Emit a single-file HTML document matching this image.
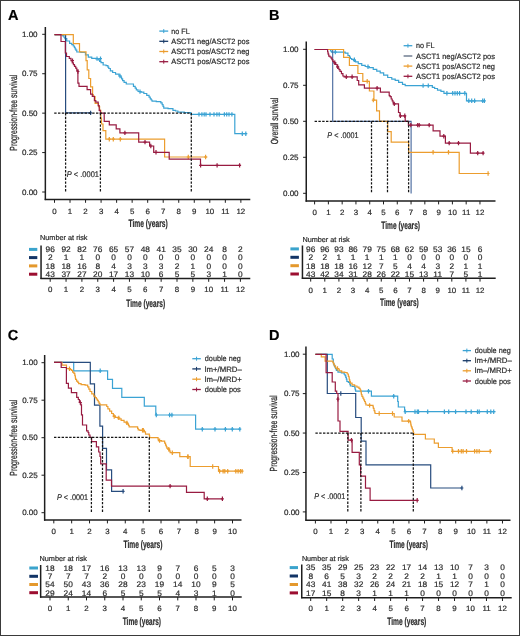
<!DOCTYPE html>
<html><head><meta charset="utf-8"><style>
html,body{margin:0;padding:0;background:#fff;}
body{width:520px;height:636px;overflow:hidden;}
svg{display:block;font-family:"Liberation Sans", sans-serif;text-rendering:geometricPrecision;filter:blur(0.4px);}
</style></head><body>
<svg width="520" height="636" viewBox="0 0 520 636">
<rect x="0" y="0" width="520" height="636" fill="#fff"/>
<text transform="translate(7.90,19.80)" font-size="14.5" font-weight="bold" fill="#000" stroke="#000" stroke-width="0.2">A</text>
<line x1="45.35" y1="27.00" x2="45.35" y2="200.10" stroke="#1e1e1e" stroke-width="1.5"/>
<line x1="44.70" y1="199.50" x2="250.30" y2="199.50" stroke="#1e1e1e" stroke-width="1.5"/>
<line x1="42.20" y1="34.30" x2="45.50" y2="34.30" stroke="#1e1e1e" stroke-width="1.0"/>
<text transform="translate(37.60,37.05) scale(1.030,1)" font-size="7.8" text-anchor="end" fill="#2b2b2b" stroke="#2b2b2b" stroke-width="0.2">1.00</text>
<line x1="42.20" y1="73.72" x2="45.50" y2="73.72" stroke="#1e1e1e" stroke-width="1.0"/>
<text transform="translate(37.60,76.47) scale(1.030,1)" font-size="7.8" text-anchor="end" fill="#2b2b2b" stroke="#2b2b2b" stroke-width="0.2">0.75</text>
<line x1="42.20" y1="113.15" x2="45.50" y2="113.15" stroke="#1e1e1e" stroke-width="1.0"/>
<text transform="translate(37.60,115.90) scale(1.030,1)" font-size="7.8" text-anchor="end" fill="#2b2b2b" stroke="#2b2b2b" stroke-width="0.2">0.50</text>
<line x1="42.20" y1="152.57" x2="45.50" y2="152.57" stroke="#1e1e1e" stroke-width="1.0"/>
<text transform="translate(37.60,155.32) scale(1.030,1)" font-size="7.8" text-anchor="end" fill="#2b2b2b" stroke="#2b2b2b" stroke-width="0.2">0.25</text>
<line x1="42.20" y1="192.00" x2="45.50" y2="192.00" stroke="#1e1e1e" stroke-width="1.0"/>
<text transform="translate(37.60,194.75) scale(1.030,1)" font-size="7.8" text-anchor="end" fill="#2b2b2b" stroke="#2b2b2b" stroke-width="0.2">0.00</text>
<line x1="54.50" y1="199.40" x2="54.50" y2="202.80" stroke="#1e1e1e" stroke-width="1.0"/>
<text transform="translate(54.50,213.70) scale(1.040,1)" font-size="7.6" text-anchor="middle" fill="#2b2b2b" stroke="#2b2b2b" stroke-width="0.2">0</text>
<line x1="70.03" y1="199.40" x2="70.03" y2="202.80" stroke="#1e1e1e" stroke-width="1.0"/>
<text transform="translate(70.03,213.70) scale(1.040,1)" font-size="7.6" text-anchor="middle" fill="#2b2b2b" stroke="#2b2b2b" stroke-width="0.2">1</text>
<line x1="85.56" y1="199.40" x2="85.56" y2="202.80" stroke="#1e1e1e" stroke-width="1.0"/>
<text transform="translate(85.56,213.70) scale(1.040,1)" font-size="7.6" text-anchor="middle" fill="#2b2b2b" stroke="#2b2b2b" stroke-width="0.2">2</text>
<line x1="101.09" y1="199.40" x2="101.09" y2="202.80" stroke="#1e1e1e" stroke-width="1.0"/>
<text transform="translate(101.09,213.70) scale(1.040,1)" font-size="7.6" text-anchor="middle" fill="#2b2b2b" stroke="#2b2b2b" stroke-width="0.2">3</text>
<line x1="116.62" y1="199.40" x2="116.62" y2="202.80" stroke="#1e1e1e" stroke-width="1.0"/>
<text transform="translate(116.62,213.70) scale(1.040,1)" font-size="7.6" text-anchor="middle" fill="#2b2b2b" stroke="#2b2b2b" stroke-width="0.2">4</text>
<line x1="132.15" y1="199.40" x2="132.15" y2="202.80" stroke="#1e1e1e" stroke-width="1.0"/>
<text transform="translate(132.15,213.70) scale(1.040,1)" font-size="7.6" text-anchor="middle" fill="#2b2b2b" stroke="#2b2b2b" stroke-width="0.2">5</text>
<line x1="147.68" y1="199.40" x2="147.68" y2="202.80" stroke="#1e1e1e" stroke-width="1.0"/>
<text transform="translate(147.68,213.70) scale(1.040,1)" font-size="7.6" text-anchor="middle" fill="#2b2b2b" stroke="#2b2b2b" stroke-width="0.2">6</text>
<line x1="163.21" y1="199.40" x2="163.21" y2="202.80" stroke="#1e1e1e" stroke-width="1.0"/>
<text transform="translate(163.21,213.70) scale(1.040,1)" font-size="7.6" text-anchor="middle" fill="#2b2b2b" stroke="#2b2b2b" stroke-width="0.2">7</text>
<line x1="178.74" y1="199.40" x2="178.74" y2="202.80" stroke="#1e1e1e" stroke-width="1.0"/>
<text transform="translate(178.74,213.70) scale(1.040,1)" font-size="7.6" text-anchor="middle" fill="#2b2b2b" stroke="#2b2b2b" stroke-width="0.2">8</text>
<line x1="194.27" y1="199.40" x2="194.27" y2="202.80" stroke="#1e1e1e" stroke-width="1.0"/>
<text transform="translate(194.27,213.70) scale(1.040,1)" font-size="7.6" text-anchor="middle" fill="#2b2b2b" stroke="#2b2b2b" stroke-width="0.2">9</text>
<line x1="209.80" y1="199.40" x2="209.80" y2="202.80" stroke="#1e1e1e" stroke-width="1.0"/>
<text transform="translate(209.80,213.70) scale(1.040,1)" font-size="7.6" text-anchor="middle" fill="#2b2b2b" stroke="#2b2b2b" stroke-width="0.2">10</text>
<line x1="225.33" y1="199.40" x2="225.33" y2="202.80" stroke="#1e1e1e" stroke-width="1.0"/>
<text transform="translate(225.33,213.70) scale(1.040,1)" font-size="7.6" text-anchor="middle" fill="#2b2b2b" stroke="#2b2b2b" stroke-width="0.2">11</text>
<line x1="240.86" y1="199.40" x2="240.86" y2="202.80" stroke="#1e1e1e" stroke-width="1.0"/>
<text transform="translate(240.86,213.70) scale(1.040,1)" font-size="7.6" text-anchor="middle" fill="#2b2b2b" stroke="#2b2b2b" stroke-width="0.2">12</text>
<text transform="translate(128.50,227.30)" font-size="10.8" font-weight="bold" textLength="39.20" lengthAdjust="spacingAndGlyphs" fill="#2b2b2b" stroke="#2b2b2b" stroke-width="0.2">Time (years)</text>
<text transform="translate(16.80,112.70) rotate(-90)" font-size="10.3" text-anchor="middle" textLength="76.00" lengthAdjust="spacingAndGlyphs" fill="#2b2b2b" stroke="#2b2b2b" stroke-width="0.25">Progression-free survival</text>
<line x1="159.30" y1="31.10" x2="168.20" y2="31.10" stroke="#3BA3D4" stroke-width="1.3"/>
<line x1="163.75" y1="29.10" x2="163.75" y2="33.10" stroke="#3BA3D4" stroke-width="1.0"/>
<text transform="translate(171.20,33.70)" font-size="7.7" textLength="18.50" lengthAdjust="spacingAndGlyphs" fill="#2b2b2b" stroke="#2b2b2b" stroke-width="0.2">no FL</text>
<line x1="159.30" y1="41.30" x2="168.20" y2="41.30" stroke="#183A68" stroke-width="1.3"/>
<line x1="163.75" y1="39.30" x2="163.75" y2="43.30" stroke="#183A68" stroke-width="1.0"/>
<text transform="translate(171.20,43.90)" font-size="7.7" textLength="78.20" lengthAdjust="spacingAndGlyphs" fill="#2b2b2b" stroke="#2b2b2b" stroke-width="0.2">ASCT1 neg/ASCT2 pos</text>
<line x1="159.30" y1="51.50" x2="168.20" y2="51.50" stroke="#EC9D2E" stroke-width="1.3"/>
<line x1="163.75" y1="49.50" x2="163.75" y2="53.50" stroke="#EC9D2E" stroke-width="1.0"/>
<text transform="translate(171.20,54.10)" font-size="7.7" textLength="78.20" lengthAdjust="spacingAndGlyphs" fill="#2b2b2b" stroke="#2b2b2b" stroke-width="0.2">ASCT1 pos/ASCT2 neg</text>
<line x1="159.30" y1="61.70" x2="168.20" y2="61.70" stroke="#981B41" stroke-width="1.3"/>
<line x1="163.75" y1="59.70" x2="163.75" y2="63.70" stroke="#981B41" stroke-width="1.0"/>
<text transform="translate(171.20,64.30)" font-size="7.7" textLength="78.20" lengthAdjust="spacingAndGlyphs" fill="#2b2b2b" stroke="#2b2b2b" stroke-width="0.2">ASCT1 pos/ASCT2 pos</text>
<text transform="translate(40.00,240.00)" font-size="7.2" textLength="47.50" lengthAdjust="spacingAndGlyphs" fill="#2b2b2b" stroke="#2b2b2b" stroke-width="0.2">Number at risk</text>
<rect x="29.00" y="247.90" width="8.30" height="3.00" fill="#3AA3CC"/>
<text transform="translate(50.20,252.25) scale(1.040,1)" font-size="8.0" text-anchor="middle" fill="#2b2b2b" stroke="#2b2b2b" stroke-width="0.2">96</text>
<text transform="translate(66.05,252.25) scale(1.040,1)" font-size="8.0" text-anchor="middle" fill="#2b2b2b" stroke="#2b2b2b" stroke-width="0.2">92</text>
<text transform="translate(81.90,252.25) scale(1.040,1)" font-size="8.0" text-anchor="middle" fill="#2b2b2b" stroke="#2b2b2b" stroke-width="0.2">82</text>
<text transform="translate(97.75,252.25) scale(1.040,1)" font-size="8.0" text-anchor="middle" fill="#2b2b2b" stroke="#2b2b2b" stroke-width="0.2">76</text>
<text transform="translate(113.60,252.25) scale(1.040,1)" font-size="8.0" text-anchor="middle" fill="#2b2b2b" stroke="#2b2b2b" stroke-width="0.2">65</text>
<text transform="translate(129.45,252.25) scale(1.040,1)" font-size="8.0" text-anchor="middle" fill="#2b2b2b" stroke="#2b2b2b" stroke-width="0.2">57</text>
<text transform="translate(145.30,252.25) scale(1.040,1)" font-size="8.0" text-anchor="middle" fill="#2b2b2b" stroke="#2b2b2b" stroke-width="0.2">48</text>
<text transform="translate(161.15,252.25) scale(1.040,1)" font-size="8.0" text-anchor="middle" fill="#2b2b2b" stroke="#2b2b2b" stroke-width="0.2">41</text>
<text transform="translate(177.00,252.25) scale(1.040,1)" font-size="8.0" text-anchor="middle" fill="#2b2b2b" stroke="#2b2b2b" stroke-width="0.2">35</text>
<text transform="translate(192.85,252.25) scale(1.040,1)" font-size="8.0" text-anchor="middle" fill="#2b2b2b" stroke="#2b2b2b" stroke-width="0.2">30</text>
<text transform="translate(208.70,252.25) scale(1.040,1)" font-size="8.0" text-anchor="middle" fill="#2b2b2b" stroke="#2b2b2b" stroke-width="0.2">24</text>
<text transform="translate(224.55,252.25) scale(1.040,1)" font-size="8.0" text-anchor="middle" fill="#2b2b2b" stroke="#2b2b2b" stroke-width="0.2">8</text>
<text transform="translate(240.40,252.25) scale(1.040,1)" font-size="8.0" text-anchor="middle" fill="#2b2b2b" stroke="#2b2b2b" stroke-width="0.2">2</text>
<rect x="29.00" y="256.10" width="8.30" height="3.00" fill="#123466"/>
<text transform="translate(50.20,260.45) scale(1.040,1)" font-size="8.0" text-anchor="middle" fill="#2b2b2b" stroke="#2b2b2b" stroke-width="0.2">2</text>
<text transform="translate(66.05,260.45) scale(1.040,1)" font-size="8.0" text-anchor="middle" fill="#2b2b2b" stroke="#2b2b2b" stroke-width="0.2">1</text>
<text transform="translate(81.90,260.45) scale(1.040,1)" font-size="8.0" text-anchor="middle" fill="#2b2b2b" stroke="#2b2b2b" stroke-width="0.2">1</text>
<text transform="translate(97.75,260.45) scale(1.040,1)" font-size="8.0" text-anchor="middle" fill="#2b2b2b" stroke="#2b2b2b" stroke-width="0.2">0</text>
<text transform="translate(113.60,260.45) scale(1.040,1)" font-size="8.0" text-anchor="middle" fill="#2b2b2b" stroke="#2b2b2b" stroke-width="0.2">0</text>
<text transform="translate(129.45,260.45) scale(1.040,1)" font-size="8.0" text-anchor="middle" fill="#2b2b2b" stroke="#2b2b2b" stroke-width="0.2">0</text>
<text transform="translate(145.30,260.45) scale(1.040,1)" font-size="8.0" text-anchor="middle" fill="#2b2b2b" stroke="#2b2b2b" stroke-width="0.2">0</text>
<text transform="translate(161.15,260.45) scale(1.040,1)" font-size="8.0" text-anchor="middle" fill="#2b2b2b" stroke="#2b2b2b" stroke-width="0.2">0</text>
<text transform="translate(177.00,260.45) scale(1.040,1)" font-size="8.0" text-anchor="middle" fill="#2b2b2b" stroke="#2b2b2b" stroke-width="0.2">0</text>
<text transform="translate(192.85,260.45) scale(1.040,1)" font-size="8.0" text-anchor="middle" fill="#2b2b2b" stroke="#2b2b2b" stroke-width="0.2">0</text>
<text transform="translate(208.70,260.45) scale(1.040,1)" font-size="8.0" text-anchor="middle" fill="#2b2b2b" stroke="#2b2b2b" stroke-width="0.2">0</text>
<text transform="translate(224.55,260.45) scale(1.040,1)" font-size="8.0" text-anchor="middle" fill="#2b2b2b" stroke="#2b2b2b" stroke-width="0.2">0</text>
<text transform="translate(240.40,260.45) scale(1.040,1)" font-size="8.0" text-anchor="middle" fill="#2b2b2b" stroke="#2b2b2b" stroke-width="0.2">0</text>
<rect x="29.00" y="264.40" width="8.30" height="3.00" fill="#E4982C"/>
<text transform="translate(50.20,268.75) scale(1.040,1)" font-size="8.0" text-anchor="middle" fill="#2b2b2b" stroke="#2b2b2b" stroke-width="0.2">18</text>
<text transform="translate(66.05,268.75) scale(1.040,1)" font-size="8.0" text-anchor="middle" fill="#2b2b2b" stroke="#2b2b2b" stroke-width="0.2">18</text>
<text transform="translate(81.90,268.75) scale(1.040,1)" font-size="8.0" text-anchor="middle" fill="#2b2b2b" stroke="#2b2b2b" stroke-width="0.2">16</text>
<text transform="translate(97.75,268.75) scale(1.040,1)" font-size="8.0" text-anchor="middle" fill="#2b2b2b" stroke="#2b2b2b" stroke-width="0.2">8</text>
<text transform="translate(113.60,268.75) scale(1.040,1)" font-size="8.0" text-anchor="middle" fill="#2b2b2b" stroke="#2b2b2b" stroke-width="0.2">4</text>
<text transform="translate(129.45,268.75) scale(1.040,1)" font-size="8.0" text-anchor="middle" fill="#2b2b2b" stroke="#2b2b2b" stroke-width="0.2">3</text>
<text transform="translate(145.30,268.75) scale(1.040,1)" font-size="8.0" text-anchor="middle" fill="#2b2b2b" stroke="#2b2b2b" stroke-width="0.2">3</text>
<text transform="translate(161.15,268.75) scale(1.040,1)" font-size="8.0" text-anchor="middle" fill="#2b2b2b" stroke="#2b2b2b" stroke-width="0.2">3</text>
<text transform="translate(177.00,268.75) scale(1.040,1)" font-size="8.0" text-anchor="middle" fill="#2b2b2b" stroke="#2b2b2b" stroke-width="0.2">2</text>
<text transform="translate(192.85,268.75) scale(1.040,1)" font-size="8.0" text-anchor="middle" fill="#2b2b2b" stroke="#2b2b2b" stroke-width="0.2">1</text>
<text transform="translate(208.70,268.75) scale(1.040,1)" font-size="8.0" text-anchor="middle" fill="#2b2b2b" stroke="#2b2b2b" stroke-width="0.2">0</text>
<text transform="translate(224.55,268.75) scale(1.040,1)" font-size="8.0" text-anchor="middle" fill="#2b2b2b" stroke="#2b2b2b" stroke-width="0.2">0</text>
<text transform="translate(240.40,268.75) scale(1.040,1)" font-size="8.0" text-anchor="middle" fill="#2b2b2b" stroke="#2b2b2b" stroke-width="0.2">0</text>
<rect x="29.00" y="272.70" width="8.30" height="3.00" fill="#9C0E30"/>
<text transform="translate(50.20,277.05) scale(1.040,1)" font-size="8.0" text-anchor="middle" fill="#2b2b2b" stroke="#2b2b2b" stroke-width="0.2">43</text>
<text transform="translate(66.05,277.05) scale(1.040,1)" font-size="8.0" text-anchor="middle" fill="#2b2b2b" stroke="#2b2b2b" stroke-width="0.2">37</text>
<text transform="translate(81.90,277.05) scale(1.040,1)" font-size="8.0" text-anchor="middle" fill="#2b2b2b" stroke="#2b2b2b" stroke-width="0.2">27</text>
<text transform="translate(97.75,277.05) scale(1.040,1)" font-size="8.0" text-anchor="middle" fill="#2b2b2b" stroke="#2b2b2b" stroke-width="0.2">20</text>
<text transform="translate(113.60,277.05) scale(1.040,1)" font-size="8.0" text-anchor="middle" fill="#2b2b2b" stroke="#2b2b2b" stroke-width="0.2">17</text>
<text transform="translate(129.45,277.05) scale(1.040,1)" font-size="8.0" text-anchor="middle" fill="#2b2b2b" stroke="#2b2b2b" stroke-width="0.2">13</text>
<text transform="translate(145.30,277.05) scale(1.040,1)" font-size="8.0" text-anchor="middle" fill="#2b2b2b" stroke="#2b2b2b" stroke-width="0.2">10</text>
<text transform="translate(161.15,277.05) scale(1.040,1)" font-size="8.0" text-anchor="middle" fill="#2b2b2b" stroke="#2b2b2b" stroke-width="0.2">6</text>
<text transform="translate(177.00,277.05) scale(1.040,1)" font-size="8.0" text-anchor="middle" fill="#2b2b2b" stroke="#2b2b2b" stroke-width="0.2">5</text>
<text transform="translate(192.85,277.05) scale(1.040,1)" font-size="8.0" text-anchor="middle" fill="#2b2b2b" stroke="#2b2b2b" stroke-width="0.2">5</text>
<text transform="translate(208.70,277.05) scale(1.040,1)" font-size="8.0" text-anchor="middle" fill="#2b2b2b" stroke="#2b2b2b" stroke-width="0.2">3</text>
<text transform="translate(224.55,277.05) scale(1.040,1)" font-size="8.0" text-anchor="middle" fill="#2b2b2b" stroke="#2b2b2b" stroke-width="0.2">1</text>
<text transform="translate(240.40,277.05) scale(1.040,1)" font-size="8.0" text-anchor="middle" fill="#2b2b2b" stroke="#2b2b2b" stroke-width="0.2">0</text>
<line x1="41.05" y1="245.50" x2="41.05" y2="279.10" stroke="#1e1e1e" stroke-width="1.5"/>
<line x1="40.40" y1="278.50" x2="250.30" y2="278.50" stroke="#1e1e1e" stroke-width="1.5"/>
<line x1="50.20" y1="278.40" x2="50.20" y2="281.80" stroke="#1e1e1e" stroke-width="1.0"/>
<text transform="translate(50.20,292.40) scale(1.040,1)" font-size="7.6" text-anchor="middle" fill="#2b2b2b" stroke="#2b2b2b" stroke-width="0.2">0</text>
<line x1="66.05" y1="278.40" x2="66.05" y2="281.80" stroke="#1e1e1e" stroke-width="1.0"/>
<text transform="translate(66.05,292.40) scale(1.040,1)" font-size="7.6" text-anchor="middle" fill="#2b2b2b" stroke="#2b2b2b" stroke-width="0.2">1</text>
<line x1="81.90" y1="278.40" x2="81.90" y2="281.80" stroke="#1e1e1e" stroke-width="1.0"/>
<text transform="translate(81.90,292.40) scale(1.040,1)" font-size="7.6" text-anchor="middle" fill="#2b2b2b" stroke="#2b2b2b" stroke-width="0.2">2</text>
<line x1="97.75" y1="278.40" x2="97.75" y2="281.80" stroke="#1e1e1e" stroke-width="1.0"/>
<text transform="translate(97.75,292.40) scale(1.040,1)" font-size="7.6" text-anchor="middle" fill="#2b2b2b" stroke="#2b2b2b" stroke-width="0.2">3</text>
<line x1="113.60" y1="278.40" x2="113.60" y2="281.80" stroke="#1e1e1e" stroke-width="1.0"/>
<text transform="translate(113.60,292.40) scale(1.040,1)" font-size="7.6" text-anchor="middle" fill="#2b2b2b" stroke="#2b2b2b" stroke-width="0.2">4</text>
<line x1="129.45" y1="278.40" x2="129.45" y2="281.80" stroke="#1e1e1e" stroke-width="1.0"/>
<text transform="translate(129.45,292.40) scale(1.040,1)" font-size="7.6" text-anchor="middle" fill="#2b2b2b" stroke="#2b2b2b" stroke-width="0.2">5</text>
<line x1="145.30" y1="278.40" x2="145.30" y2="281.80" stroke="#1e1e1e" stroke-width="1.0"/>
<text transform="translate(145.30,292.40) scale(1.040,1)" font-size="7.6" text-anchor="middle" fill="#2b2b2b" stroke="#2b2b2b" stroke-width="0.2">6</text>
<line x1="161.15" y1="278.40" x2="161.15" y2="281.80" stroke="#1e1e1e" stroke-width="1.0"/>
<text transform="translate(161.15,292.40) scale(1.040,1)" font-size="7.6" text-anchor="middle" fill="#2b2b2b" stroke="#2b2b2b" stroke-width="0.2">7</text>
<line x1="177.00" y1="278.40" x2="177.00" y2="281.80" stroke="#1e1e1e" stroke-width="1.0"/>
<text transform="translate(177.00,292.40) scale(1.040,1)" font-size="7.6" text-anchor="middle" fill="#2b2b2b" stroke="#2b2b2b" stroke-width="0.2">8</text>
<line x1="192.85" y1="278.40" x2="192.85" y2="281.80" stroke="#1e1e1e" stroke-width="1.0"/>
<text transform="translate(192.85,292.40) scale(1.040,1)" font-size="7.6" text-anchor="middle" fill="#2b2b2b" stroke="#2b2b2b" stroke-width="0.2">9</text>
<line x1="208.70" y1="278.40" x2="208.70" y2="281.80" stroke="#1e1e1e" stroke-width="1.0"/>
<text transform="translate(208.70,292.40) scale(1.040,1)" font-size="7.6" text-anchor="middle" fill="#2b2b2b" stroke="#2b2b2b" stroke-width="0.2">10</text>
<line x1="224.55" y1="278.40" x2="224.55" y2="281.80" stroke="#1e1e1e" stroke-width="1.0"/>
<text transform="translate(224.55,292.40) scale(1.040,1)" font-size="7.6" text-anchor="middle" fill="#2b2b2b" stroke="#2b2b2b" stroke-width="0.2">11</text>
<line x1="240.40" y1="278.40" x2="240.40" y2="281.80" stroke="#1e1e1e" stroke-width="1.0"/>
<text transform="translate(240.40,292.40) scale(1.040,1)" font-size="7.6" text-anchor="middle" fill="#2b2b2b" stroke="#2b2b2b" stroke-width="0.2">12</text>
<text transform="translate(126.30,306.50)" font-size="10.8" font-weight="bold" textLength="38.80" lengthAdjust="spacingAndGlyphs" fill="#2b2b2b" stroke="#2b2b2b" stroke-width="0.2">Time (years)</text>
<text transform="translate(268.90,19.70)" font-size="14.5" font-weight="bold" fill="#000" stroke="#000" stroke-width="0.2">B</text>
<line x1="306.25" y1="41.50" x2="306.25" y2="201.70" stroke="#1e1e1e" stroke-width="1.5"/>
<line x1="305.60" y1="201.10" x2="495.50" y2="201.10" stroke="#1e1e1e" stroke-width="1.5"/>
<line x1="303.10" y1="49.30" x2="306.40" y2="49.30" stroke="#1e1e1e" stroke-width="1.0"/>
<text transform="translate(298.60,52.05) scale(1.030,1)" font-size="7.8" text-anchor="end" fill="#2b2b2b" stroke="#2b2b2b" stroke-width="0.2">1.00</text>
<line x1="303.10" y1="85.30" x2="306.40" y2="85.30" stroke="#1e1e1e" stroke-width="1.0"/>
<text transform="translate(298.60,88.05) scale(1.030,1)" font-size="7.8" text-anchor="end" fill="#2b2b2b" stroke="#2b2b2b" stroke-width="0.2">0.75</text>
<line x1="303.10" y1="121.30" x2="306.40" y2="121.30" stroke="#1e1e1e" stroke-width="1.0"/>
<text transform="translate(298.60,124.05) scale(1.030,1)" font-size="7.8" text-anchor="end" fill="#2b2b2b" stroke="#2b2b2b" stroke-width="0.2">0.50</text>
<line x1="303.10" y1="157.30" x2="306.40" y2="157.30" stroke="#1e1e1e" stroke-width="1.0"/>
<text transform="translate(298.60,160.05) scale(1.030,1)" font-size="7.8" text-anchor="end" fill="#2b2b2b" stroke="#2b2b2b" stroke-width="0.2">0.25</text>
<line x1="303.10" y1="193.30" x2="306.40" y2="193.30" stroke="#1e1e1e" stroke-width="1.0"/>
<text transform="translate(298.60,196.05) scale(1.030,1)" font-size="7.8" text-anchor="end" fill="#2b2b2b" stroke="#2b2b2b" stroke-width="0.2">0.00</text>
<line x1="314.60" y1="201.00" x2="314.60" y2="204.40" stroke="#1e1e1e" stroke-width="1.0"/>
<text transform="translate(314.60,215.40) scale(1.040,1)" font-size="7.6" text-anchor="middle" fill="#2b2b2b" stroke="#2b2b2b" stroke-width="0.2">0</text>
<line x1="328.38" y1="201.00" x2="328.38" y2="204.40" stroke="#1e1e1e" stroke-width="1.0"/>
<text transform="translate(328.38,215.40) scale(1.040,1)" font-size="7.6" text-anchor="middle" fill="#2b2b2b" stroke="#2b2b2b" stroke-width="0.2">1</text>
<line x1="342.16" y1="201.00" x2="342.16" y2="204.40" stroke="#1e1e1e" stroke-width="1.0"/>
<text transform="translate(342.16,215.40) scale(1.040,1)" font-size="7.6" text-anchor="middle" fill="#2b2b2b" stroke="#2b2b2b" stroke-width="0.2">2</text>
<line x1="355.94" y1="201.00" x2="355.94" y2="204.40" stroke="#1e1e1e" stroke-width="1.0"/>
<text transform="translate(355.94,215.40) scale(1.040,1)" font-size="7.6" text-anchor="middle" fill="#2b2b2b" stroke="#2b2b2b" stroke-width="0.2">3</text>
<line x1="369.72" y1="201.00" x2="369.72" y2="204.40" stroke="#1e1e1e" stroke-width="1.0"/>
<text transform="translate(369.72,215.40) scale(1.040,1)" font-size="7.6" text-anchor="middle" fill="#2b2b2b" stroke="#2b2b2b" stroke-width="0.2">4</text>
<line x1="383.50" y1="201.00" x2="383.50" y2="204.40" stroke="#1e1e1e" stroke-width="1.0"/>
<text transform="translate(383.50,215.40) scale(1.040,1)" font-size="7.6" text-anchor="middle" fill="#2b2b2b" stroke="#2b2b2b" stroke-width="0.2">5</text>
<line x1="397.28" y1="201.00" x2="397.28" y2="204.40" stroke="#1e1e1e" stroke-width="1.0"/>
<text transform="translate(397.28,215.40) scale(1.040,1)" font-size="7.6" text-anchor="middle" fill="#2b2b2b" stroke="#2b2b2b" stroke-width="0.2">6</text>
<line x1="411.06" y1="201.00" x2="411.06" y2="204.40" stroke="#1e1e1e" stroke-width="1.0"/>
<text transform="translate(411.06,215.40) scale(1.040,1)" font-size="7.6" text-anchor="middle" fill="#2b2b2b" stroke="#2b2b2b" stroke-width="0.2">7</text>
<line x1="424.84" y1="201.00" x2="424.84" y2="204.40" stroke="#1e1e1e" stroke-width="1.0"/>
<text transform="translate(424.84,215.40) scale(1.040,1)" font-size="7.6" text-anchor="middle" fill="#2b2b2b" stroke="#2b2b2b" stroke-width="0.2">8</text>
<line x1="438.62" y1="201.00" x2="438.62" y2="204.40" stroke="#1e1e1e" stroke-width="1.0"/>
<text transform="translate(438.62,215.40) scale(1.040,1)" font-size="7.6" text-anchor="middle" fill="#2b2b2b" stroke="#2b2b2b" stroke-width="0.2">9</text>
<line x1="452.40" y1="201.00" x2="452.40" y2="204.40" stroke="#1e1e1e" stroke-width="1.0"/>
<text transform="translate(452.40,215.40) scale(1.040,1)" font-size="7.6" text-anchor="middle" fill="#2b2b2b" stroke="#2b2b2b" stroke-width="0.2">10</text>
<line x1="466.18" y1="201.00" x2="466.18" y2="204.40" stroke="#1e1e1e" stroke-width="1.0"/>
<text transform="translate(466.18,215.40) scale(1.040,1)" font-size="7.6" text-anchor="middle" fill="#2b2b2b" stroke="#2b2b2b" stroke-width="0.2">11</text>
<line x1="479.96" y1="201.00" x2="479.96" y2="204.40" stroke="#1e1e1e" stroke-width="1.0"/>
<text transform="translate(479.96,215.40) scale(1.040,1)" font-size="7.6" text-anchor="middle" fill="#2b2b2b" stroke="#2b2b2b" stroke-width="0.2">12</text>
<text transform="translate(381.30,229.00)" font-size="10.8" font-weight="bold" textLength="38.70" lengthAdjust="spacingAndGlyphs" fill="#2b2b2b" stroke="#2b2b2b" stroke-width="0.2">Time (years)</text>
<text transform="translate(278.00,121.00) rotate(-90)" font-size="10.3" text-anchor="middle" textLength="46.30" lengthAdjust="spacingAndGlyphs" fill="#2b2b2b" stroke="#2b2b2b" stroke-width="0.25">Overall survival</text>
<line x1="403.60" y1="45.70" x2="412.30" y2="45.70" stroke="#3BA3D4" stroke-width="1.3"/>
<line x1="407.95" y1="43.70" x2="407.95" y2="47.70" stroke="#3BA3D4" stroke-width="1.0"/>
<text transform="translate(416.00,48.30)" font-size="7.7" textLength="18.50" lengthAdjust="spacingAndGlyphs" fill="#2b2b2b" stroke="#2b2b2b" stroke-width="0.2">no FL</text>
<line x1="403.60" y1="56.00" x2="412.30" y2="56.00" stroke="#5a6a80" stroke-width="1.3"/>
<text transform="translate(416.00,58.60)" font-size="7.7" textLength="79.00" lengthAdjust="spacingAndGlyphs" fill="#2b2b2b" stroke="#2b2b2b" stroke-width="0.2">ASCT1 neg/ASCT2 pos</text>
<line x1="403.60" y1="66.10" x2="412.30" y2="66.10" stroke="#EC9D2E" stroke-width="1.3"/>
<line x1="407.95" y1="64.10" x2="407.95" y2="68.10" stroke="#EC9D2E" stroke-width="1.0"/>
<text transform="translate(416.00,68.70)" font-size="7.7" textLength="79.00" lengthAdjust="spacingAndGlyphs" fill="#2b2b2b" stroke="#2b2b2b" stroke-width="0.2">ASCT1 pos/ASCT2 neg</text>
<line x1="403.60" y1="76.30" x2="412.30" y2="76.30" stroke="#981B41" stroke-width="1.3"/>
<line x1="407.95" y1="74.30" x2="407.95" y2="78.30" stroke="#981B41" stroke-width="1.0"/>
<text transform="translate(416.00,78.90)" font-size="7.7" textLength="79.00" lengthAdjust="spacingAndGlyphs" fill="#2b2b2b" stroke="#2b2b2b" stroke-width="0.2">ASCT1 pos/ASCT2 pos</text>
<text transform="translate(302.40,242.20)" font-size="7.2" textLength="47.30" lengthAdjust="spacingAndGlyphs" fill="#2b2b2b" stroke="#2b2b2b" stroke-width="0.2">Number at risk</text>
<rect x="290.40" y="247.40" width="8.50" height="3.00" fill="#3AA3CC"/>
<text transform="translate(310.70,251.75) scale(1.040,1)" font-size="8.0" text-anchor="middle" fill="#2b2b2b" stroke="#2b2b2b" stroke-width="0.2">96</text>
<text transform="translate(324.81,251.75) scale(1.040,1)" font-size="8.0" text-anchor="middle" fill="#2b2b2b" stroke="#2b2b2b" stroke-width="0.2">96</text>
<text transform="translate(338.92,251.75) scale(1.040,1)" font-size="8.0" text-anchor="middle" fill="#2b2b2b" stroke="#2b2b2b" stroke-width="0.2">93</text>
<text transform="translate(353.03,251.75) scale(1.040,1)" font-size="8.0" text-anchor="middle" fill="#2b2b2b" stroke="#2b2b2b" stroke-width="0.2">86</text>
<text transform="translate(367.14,251.75) scale(1.040,1)" font-size="8.0" text-anchor="middle" fill="#2b2b2b" stroke="#2b2b2b" stroke-width="0.2">79</text>
<text transform="translate(381.25,251.75) scale(1.040,1)" font-size="8.0" text-anchor="middle" fill="#2b2b2b" stroke="#2b2b2b" stroke-width="0.2">75</text>
<text transform="translate(395.36,251.75) scale(1.040,1)" font-size="8.0" text-anchor="middle" fill="#2b2b2b" stroke="#2b2b2b" stroke-width="0.2">68</text>
<text transform="translate(409.47,251.75) scale(1.040,1)" font-size="8.0" text-anchor="middle" fill="#2b2b2b" stroke="#2b2b2b" stroke-width="0.2">62</text>
<text transform="translate(423.58,251.75) scale(1.040,1)" font-size="8.0" text-anchor="middle" fill="#2b2b2b" stroke="#2b2b2b" stroke-width="0.2">59</text>
<text transform="translate(437.69,251.75) scale(1.040,1)" font-size="8.0" text-anchor="middle" fill="#2b2b2b" stroke="#2b2b2b" stroke-width="0.2">53</text>
<text transform="translate(451.80,251.75) scale(1.040,1)" font-size="8.0" text-anchor="middle" fill="#2b2b2b" stroke="#2b2b2b" stroke-width="0.2">36</text>
<text transform="translate(465.91,251.75) scale(1.040,1)" font-size="8.0" text-anchor="middle" fill="#2b2b2b" stroke="#2b2b2b" stroke-width="0.2">15</text>
<text transform="translate(480.02,251.75) scale(1.040,1)" font-size="8.0" text-anchor="middle" fill="#2b2b2b" stroke="#2b2b2b" stroke-width="0.2">6</text>
<rect x="290.40" y="255.80" width="8.50" height="3.00" fill="#123466"/>
<text transform="translate(310.70,260.15) scale(1.040,1)" font-size="8.0" text-anchor="middle" fill="#2b2b2b" stroke="#2b2b2b" stroke-width="0.2">2</text>
<text transform="translate(324.81,260.15) scale(1.040,1)" font-size="8.0" text-anchor="middle" fill="#2b2b2b" stroke="#2b2b2b" stroke-width="0.2">2</text>
<text transform="translate(338.92,260.15) scale(1.040,1)" font-size="8.0" text-anchor="middle" fill="#2b2b2b" stroke="#2b2b2b" stroke-width="0.2">1</text>
<text transform="translate(353.03,260.15) scale(1.040,1)" font-size="8.0" text-anchor="middle" fill="#2b2b2b" stroke="#2b2b2b" stroke-width="0.2">1</text>
<text transform="translate(367.14,260.15) scale(1.040,1)" font-size="8.0" text-anchor="middle" fill="#2b2b2b" stroke="#2b2b2b" stroke-width="0.2">1</text>
<text transform="translate(381.25,260.15) scale(1.040,1)" font-size="8.0" text-anchor="middle" fill="#2b2b2b" stroke="#2b2b2b" stroke-width="0.2">1</text>
<text transform="translate(395.36,260.15) scale(1.040,1)" font-size="8.0" text-anchor="middle" fill="#2b2b2b" stroke="#2b2b2b" stroke-width="0.2">1</text>
<text transform="translate(409.47,260.15) scale(1.040,1)" font-size="8.0" text-anchor="middle" fill="#2b2b2b" stroke="#2b2b2b" stroke-width="0.2">0</text>
<text transform="translate(423.58,260.15) scale(1.040,1)" font-size="8.0" text-anchor="middle" fill="#2b2b2b" stroke="#2b2b2b" stroke-width="0.2">0</text>
<text transform="translate(437.69,260.15) scale(1.040,1)" font-size="8.0" text-anchor="middle" fill="#2b2b2b" stroke="#2b2b2b" stroke-width="0.2">0</text>
<text transform="translate(451.80,260.15) scale(1.040,1)" font-size="8.0" text-anchor="middle" fill="#2b2b2b" stroke="#2b2b2b" stroke-width="0.2">0</text>
<text transform="translate(465.91,260.15) scale(1.040,1)" font-size="8.0" text-anchor="middle" fill="#2b2b2b" stroke="#2b2b2b" stroke-width="0.2">0</text>
<text transform="translate(480.02,260.15) scale(1.040,1)" font-size="8.0" text-anchor="middle" fill="#2b2b2b" stroke="#2b2b2b" stroke-width="0.2">0</text>
<rect x="290.40" y="264.20" width="8.50" height="3.00" fill="#E4982C"/>
<text transform="translate(310.70,268.55) scale(1.040,1)" font-size="8.0" text-anchor="middle" fill="#2b2b2b" stroke="#2b2b2b" stroke-width="0.2">18</text>
<text transform="translate(324.81,268.55) scale(1.040,1)" font-size="8.0" text-anchor="middle" fill="#2b2b2b" stroke="#2b2b2b" stroke-width="0.2">18</text>
<text transform="translate(338.92,268.55) scale(1.040,1)" font-size="8.0" text-anchor="middle" fill="#2b2b2b" stroke="#2b2b2b" stroke-width="0.2">18</text>
<text transform="translate(353.03,268.55) scale(1.040,1)" font-size="8.0" text-anchor="middle" fill="#2b2b2b" stroke="#2b2b2b" stroke-width="0.2">16</text>
<text transform="translate(367.14,268.55) scale(1.040,1)" font-size="8.0" text-anchor="middle" fill="#2b2b2b" stroke="#2b2b2b" stroke-width="0.2">12</text>
<text transform="translate(381.25,268.55) scale(1.040,1)" font-size="8.0" text-anchor="middle" fill="#2b2b2b" stroke="#2b2b2b" stroke-width="0.2">7</text>
<text transform="translate(395.36,268.55) scale(1.040,1)" font-size="8.0" text-anchor="middle" fill="#2b2b2b" stroke="#2b2b2b" stroke-width="0.2">5</text>
<text transform="translate(409.47,268.55) scale(1.040,1)" font-size="8.0" text-anchor="middle" fill="#2b2b2b" stroke="#2b2b2b" stroke-width="0.2">4</text>
<text transform="translate(423.58,268.55) scale(1.040,1)" font-size="8.0" text-anchor="middle" fill="#2b2b2b" stroke="#2b2b2b" stroke-width="0.2">4</text>
<text transform="translate(437.69,268.55) scale(1.040,1)" font-size="8.0" text-anchor="middle" fill="#2b2b2b" stroke="#2b2b2b" stroke-width="0.2">3</text>
<text transform="translate(451.80,268.55) scale(1.040,1)" font-size="8.0" text-anchor="middle" fill="#2b2b2b" stroke="#2b2b2b" stroke-width="0.2">2</text>
<text transform="translate(465.91,268.55) scale(1.040,1)" font-size="8.0" text-anchor="middle" fill="#2b2b2b" stroke="#2b2b2b" stroke-width="0.2">1</text>
<text transform="translate(480.02,268.55) scale(1.040,1)" font-size="8.0" text-anchor="middle" fill="#2b2b2b" stroke="#2b2b2b" stroke-width="0.2">1</text>
<rect x="290.40" y="272.50" width="8.50" height="3.00" fill="#9C0E30"/>
<text transform="translate(310.70,276.85) scale(1.040,1)" font-size="8.0" text-anchor="middle" fill="#2b2b2b" stroke="#2b2b2b" stroke-width="0.2">43</text>
<text transform="translate(324.81,276.85) scale(1.040,1)" font-size="8.0" text-anchor="middle" fill="#2b2b2b" stroke="#2b2b2b" stroke-width="0.2">42</text>
<text transform="translate(338.92,276.85) scale(1.040,1)" font-size="8.0" text-anchor="middle" fill="#2b2b2b" stroke="#2b2b2b" stroke-width="0.2">34</text>
<text transform="translate(353.03,276.85) scale(1.040,1)" font-size="8.0" text-anchor="middle" fill="#2b2b2b" stroke="#2b2b2b" stroke-width="0.2">31</text>
<text transform="translate(367.14,276.85) scale(1.040,1)" font-size="8.0" text-anchor="middle" fill="#2b2b2b" stroke="#2b2b2b" stroke-width="0.2">28</text>
<text transform="translate(381.25,276.85) scale(1.040,1)" font-size="8.0" text-anchor="middle" fill="#2b2b2b" stroke="#2b2b2b" stroke-width="0.2">26</text>
<text transform="translate(395.36,276.85) scale(1.040,1)" font-size="8.0" text-anchor="middle" fill="#2b2b2b" stroke="#2b2b2b" stroke-width="0.2">22</text>
<text transform="translate(409.47,276.85) scale(1.040,1)" font-size="8.0" text-anchor="middle" fill="#2b2b2b" stroke="#2b2b2b" stroke-width="0.2">15</text>
<text transform="translate(423.58,276.85) scale(1.040,1)" font-size="8.0" text-anchor="middle" fill="#2b2b2b" stroke="#2b2b2b" stroke-width="0.2">13</text>
<text transform="translate(437.69,276.85) scale(1.040,1)" font-size="8.0" text-anchor="middle" fill="#2b2b2b" stroke="#2b2b2b" stroke-width="0.2">11</text>
<text transform="translate(451.80,276.85) scale(1.040,1)" font-size="8.0" text-anchor="middle" fill="#2b2b2b" stroke="#2b2b2b" stroke-width="0.2">7</text>
<text transform="translate(465.91,276.85) scale(1.040,1)" font-size="8.0" text-anchor="middle" fill="#2b2b2b" stroke="#2b2b2b" stroke-width="0.2">5</text>
<text transform="translate(480.02,276.85) scale(1.040,1)" font-size="8.0" text-anchor="middle" fill="#2b2b2b" stroke="#2b2b2b" stroke-width="0.2">1</text>
<line x1="302.45" y1="245.50" x2="302.45" y2="278.90" stroke="#1e1e1e" stroke-width="1.5"/>
<line x1="301.80" y1="278.30" x2="495.70" y2="278.30" stroke="#1e1e1e" stroke-width="1.5"/>
<line x1="310.70" y1="278.20" x2="310.70" y2="281.60" stroke="#1e1e1e" stroke-width="1.0"/>
<text transform="translate(310.70,293.20) scale(1.040,1)" font-size="7.6" text-anchor="middle" fill="#2b2b2b" stroke="#2b2b2b" stroke-width="0.2">0</text>
<line x1="324.81" y1="278.20" x2="324.81" y2="281.60" stroke="#1e1e1e" stroke-width="1.0"/>
<text transform="translate(324.81,293.20) scale(1.040,1)" font-size="7.6" text-anchor="middle" fill="#2b2b2b" stroke="#2b2b2b" stroke-width="0.2">1</text>
<line x1="338.92" y1="278.20" x2="338.92" y2="281.60" stroke="#1e1e1e" stroke-width="1.0"/>
<text transform="translate(338.92,293.20) scale(1.040,1)" font-size="7.6" text-anchor="middle" fill="#2b2b2b" stroke="#2b2b2b" stroke-width="0.2">2</text>
<line x1="353.03" y1="278.20" x2="353.03" y2="281.60" stroke="#1e1e1e" stroke-width="1.0"/>
<text transform="translate(353.03,293.20) scale(1.040,1)" font-size="7.6" text-anchor="middle" fill="#2b2b2b" stroke="#2b2b2b" stroke-width="0.2">3</text>
<line x1="367.14" y1="278.20" x2="367.14" y2="281.60" stroke="#1e1e1e" stroke-width="1.0"/>
<text transform="translate(367.14,293.20) scale(1.040,1)" font-size="7.6" text-anchor="middle" fill="#2b2b2b" stroke="#2b2b2b" stroke-width="0.2">4</text>
<line x1="381.25" y1="278.20" x2="381.25" y2="281.60" stroke="#1e1e1e" stroke-width="1.0"/>
<text transform="translate(381.25,293.20) scale(1.040,1)" font-size="7.6" text-anchor="middle" fill="#2b2b2b" stroke="#2b2b2b" stroke-width="0.2">5</text>
<line x1="395.36" y1="278.20" x2="395.36" y2="281.60" stroke="#1e1e1e" stroke-width="1.0"/>
<text transform="translate(395.36,293.20) scale(1.040,1)" font-size="7.6" text-anchor="middle" fill="#2b2b2b" stroke="#2b2b2b" stroke-width="0.2">6</text>
<line x1="409.47" y1="278.20" x2="409.47" y2="281.60" stroke="#1e1e1e" stroke-width="1.0"/>
<text transform="translate(409.47,293.20) scale(1.040,1)" font-size="7.6" text-anchor="middle" fill="#2b2b2b" stroke="#2b2b2b" stroke-width="0.2">7</text>
<line x1="423.58" y1="278.20" x2="423.58" y2="281.60" stroke="#1e1e1e" stroke-width="1.0"/>
<text transform="translate(423.58,293.20) scale(1.040,1)" font-size="7.6" text-anchor="middle" fill="#2b2b2b" stroke="#2b2b2b" stroke-width="0.2">8</text>
<line x1="437.69" y1="278.20" x2="437.69" y2="281.60" stroke="#1e1e1e" stroke-width="1.0"/>
<text transform="translate(437.69,293.20) scale(1.040,1)" font-size="7.6" text-anchor="middle" fill="#2b2b2b" stroke="#2b2b2b" stroke-width="0.2">9</text>
<line x1="451.80" y1="278.20" x2="451.80" y2="281.60" stroke="#1e1e1e" stroke-width="1.0"/>
<text transform="translate(451.80,293.20) scale(1.040,1)" font-size="7.6" text-anchor="middle" fill="#2b2b2b" stroke="#2b2b2b" stroke-width="0.2">10</text>
<line x1="465.91" y1="278.20" x2="465.91" y2="281.60" stroke="#1e1e1e" stroke-width="1.0"/>
<text transform="translate(465.91,293.20) scale(1.040,1)" font-size="7.6" text-anchor="middle" fill="#2b2b2b" stroke="#2b2b2b" stroke-width="0.2">11</text>
<line x1="480.02" y1="278.20" x2="480.02" y2="281.60" stroke="#1e1e1e" stroke-width="1.0"/>
<text transform="translate(480.02,293.20) scale(1.040,1)" font-size="7.6" text-anchor="middle" fill="#2b2b2b" stroke="#2b2b2b" stroke-width="0.2">12</text>
<text transform="translate(380.00,306.30)" font-size="10.8" font-weight="bold" textLength="38.80" lengthAdjust="spacingAndGlyphs" fill="#2b2b2b" stroke="#2b2b2b" stroke-width="0.2">Time (years)</text>
<text transform="translate(7.80,339.50)" font-size="14.5" font-weight="bold" fill="#000" stroke="#000" stroke-width="0.2">C</text>
<line x1="44.65" y1="355.00" x2="44.65" y2="520.70" stroke="#1e1e1e" stroke-width="1.5"/>
<line x1="44.00" y1="520.10" x2="241.50" y2="520.10" stroke="#1e1e1e" stroke-width="1.5"/>
<line x1="41.50" y1="362.70" x2="44.80" y2="362.70" stroke="#1e1e1e" stroke-width="1.0"/>
<text transform="translate(37.80,365.45) scale(1.030,1)" font-size="7.8" text-anchor="end" fill="#2b2b2b" stroke="#2b2b2b" stroke-width="0.2">1.00</text>
<line x1="41.50" y1="400.20" x2="44.80" y2="400.20" stroke="#1e1e1e" stroke-width="1.0"/>
<text transform="translate(37.80,402.95) scale(1.030,1)" font-size="7.8" text-anchor="end" fill="#2b2b2b" stroke="#2b2b2b" stroke-width="0.2">0.75</text>
<line x1="41.50" y1="437.70" x2="44.80" y2="437.70" stroke="#1e1e1e" stroke-width="1.0"/>
<text transform="translate(37.80,440.45) scale(1.030,1)" font-size="7.8" text-anchor="end" fill="#2b2b2b" stroke="#2b2b2b" stroke-width="0.2">0.50</text>
<line x1="41.50" y1="475.20" x2="44.80" y2="475.20" stroke="#1e1e1e" stroke-width="1.0"/>
<text transform="translate(37.80,477.95) scale(1.030,1)" font-size="7.8" text-anchor="end" fill="#2b2b2b" stroke="#2b2b2b" stroke-width="0.2">0.25</text>
<line x1="41.50" y1="512.70" x2="44.80" y2="512.70" stroke="#1e1e1e" stroke-width="1.0"/>
<text transform="translate(37.80,515.45) scale(1.030,1)" font-size="7.8" text-anchor="end" fill="#2b2b2b" stroke="#2b2b2b" stroke-width="0.2">0.00</text>
<line x1="53.80" y1="520.00" x2="53.80" y2="523.40" stroke="#1e1e1e" stroke-width="1.0"/>
<text transform="translate(53.80,534.20) scale(1.040,1)" font-size="7.6" text-anchor="middle" fill="#2b2b2b" stroke="#2b2b2b" stroke-width="0.2">0</text>
<line x1="71.67" y1="520.00" x2="71.67" y2="523.40" stroke="#1e1e1e" stroke-width="1.0"/>
<text transform="translate(71.67,534.20) scale(1.040,1)" font-size="7.6" text-anchor="middle" fill="#2b2b2b" stroke="#2b2b2b" stroke-width="0.2">1</text>
<line x1="89.54" y1="520.00" x2="89.54" y2="523.40" stroke="#1e1e1e" stroke-width="1.0"/>
<text transform="translate(89.54,534.20) scale(1.040,1)" font-size="7.6" text-anchor="middle" fill="#2b2b2b" stroke="#2b2b2b" stroke-width="0.2">2</text>
<line x1="107.41" y1="520.00" x2="107.41" y2="523.40" stroke="#1e1e1e" stroke-width="1.0"/>
<text transform="translate(107.41,534.20) scale(1.040,1)" font-size="7.6" text-anchor="middle" fill="#2b2b2b" stroke="#2b2b2b" stroke-width="0.2">3</text>
<line x1="125.28" y1="520.00" x2="125.28" y2="523.40" stroke="#1e1e1e" stroke-width="1.0"/>
<text transform="translate(125.28,534.20) scale(1.040,1)" font-size="7.6" text-anchor="middle" fill="#2b2b2b" stroke="#2b2b2b" stroke-width="0.2">4</text>
<line x1="143.15" y1="520.00" x2="143.15" y2="523.40" stroke="#1e1e1e" stroke-width="1.0"/>
<text transform="translate(143.15,534.20) scale(1.040,1)" font-size="7.6" text-anchor="middle" fill="#2b2b2b" stroke="#2b2b2b" stroke-width="0.2">5</text>
<line x1="161.02" y1="520.00" x2="161.02" y2="523.40" stroke="#1e1e1e" stroke-width="1.0"/>
<text transform="translate(161.02,534.20) scale(1.040,1)" font-size="7.6" text-anchor="middle" fill="#2b2b2b" stroke="#2b2b2b" stroke-width="0.2">6</text>
<line x1="178.89" y1="520.00" x2="178.89" y2="523.40" stroke="#1e1e1e" stroke-width="1.0"/>
<text transform="translate(178.89,534.20) scale(1.040,1)" font-size="7.6" text-anchor="middle" fill="#2b2b2b" stroke="#2b2b2b" stroke-width="0.2">7</text>
<line x1="196.76" y1="520.00" x2="196.76" y2="523.40" stroke="#1e1e1e" stroke-width="1.0"/>
<text transform="translate(196.76,534.20) scale(1.040,1)" font-size="7.6" text-anchor="middle" fill="#2b2b2b" stroke="#2b2b2b" stroke-width="0.2">8</text>
<line x1="214.63" y1="520.00" x2="214.63" y2="523.40" stroke="#1e1e1e" stroke-width="1.0"/>
<text transform="translate(214.63,534.20) scale(1.040,1)" font-size="7.6" text-anchor="middle" fill="#2b2b2b" stroke="#2b2b2b" stroke-width="0.2">9</text>
<line x1="232.50" y1="520.00" x2="232.50" y2="523.40" stroke="#1e1e1e" stroke-width="1.0"/>
<text transform="translate(232.50,534.20) scale(1.040,1)" font-size="7.6" text-anchor="middle" fill="#2b2b2b" stroke="#2b2b2b" stroke-width="0.2">10</text>
<text transform="translate(123.50,547.50)" font-size="10.8" font-weight="bold" textLength="39.00" lengthAdjust="spacingAndGlyphs" fill="#2b2b2b" stroke="#2b2b2b" stroke-width="0.2">Time (years)</text>
<text transform="translate(16.80,437.70) rotate(-90)" font-size="10.3" text-anchor="middle" textLength="76.00" lengthAdjust="spacingAndGlyphs" fill="#2b2b2b" stroke="#2b2b2b" stroke-width="0.25">Progression-free survival</text>
<line x1="192.30" y1="358.70" x2="200.80" y2="358.70" stroke="#3BA3D4" stroke-width="1.3"/>
<line x1="196.55" y1="356.70" x2="196.55" y2="360.70" stroke="#3BA3D4" stroke-width="1.0"/>
<text transform="translate(204.80,361.30)" font-size="7.7" textLength="36.00" lengthAdjust="spacingAndGlyphs" fill="#2b2b2b" stroke="#2b2b2b" stroke-width="0.2">double neg</text>
<line x1="192.30" y1="368.90" x2="200.80" y2="368.90" stroke="#183A68" stroke-width="1.3"/>
<line x1="196.55" y1="366.90" x2="196.55" y2="370.90" stroke="#183A68" stroke-width="1.0"/>
<text transform="translate(204.80,371.50)" font-size="7.7" textLength="37.00" lengthAdjust="spacingAndGlyphs" fill="#2b2b2b" stroke="#2b2b2b" stroke-width="0.2">lm+/MRD–</text>
<line x1="192.30" y1="379.20" x2="200.80" y2="379.20" stroke="#EC9D2E" stroke-width="1.3"/>
<line x1="196.55" y1="377.20" x2="196.55" y2="381.20" stroke="#EC9D2E" stroke-width="1.0"/>
<text transform="translate(204.80,381.80)" font-size="7.7" textLength="37.00" lengthAdjust="spacingAndGlyphs" fill="#2b2b2b" stroke="#2b2b2b" stroke-width="0.2">lm–/MRD+</text>
<line x1="192.30" y1="389.50" x2="200.80" y2="389.50" stroke="#981B41" stroke-width="1.3"/>
<line x1="196.55" y1="387.50" x2="196.55" y2="391.50" stroke="#981B41" stroke-width="1.0"/>
<text transform="translate(204.80,392.10)" font-size="7.7" textLength="36.00" lengthAdjust="spacingAndGlyphs" fill="#2b2b2b" stroke="#2b2b2b" stroke-width="0.2">double pos</text>
<text transform="translate(39.50,561.20)" font-size="7.2" textLength="47.50" lengthAdjust="spacingAndGlyphs" fill="#2b2b2b" stroke="#2b2b2b" stroke-width="0.2">Number at risk</text>
<rect x="29.30" y="566.50" width="8.70" height="3.00" fill="#3AA3CC"/>
<text transform="translate(50.00,570.85) scale(1.040,1)" font-size="8.0" text-anchor="middle" fill="#2b2b2b" stroke="#2b2b2b" stroke-width="0.2">18</text>
<text transform="translate(68.25,570.85) scale(1.040,1)" font-size="8.0" text-anchor="middle" fill="#2b2b2b" stroke="#2b2b2b" stroke-width="0.2">18</text>
<text transform="translate(86.50,570.85) scale(1.040,1)" font-size="8.0" text-anchor="middle" fill="#2b2b2b" stroke="#2b2b2b" stroke-width="0.2">17</text>
<text transform="translate(104.75,570.85) scale(1.040,1)" font-size="8.0" text-anchor="middle" fill="#2b2b2b" stroke="#2b2b2b" stroke-width="0.2">16</text>
<text transform="translate(123.00,570.85) scale(1.040,1)" font-size="8.0" text-anchor="middle" fill="#2b2b2b" stroke="#2b2b2b" stroke-width="0.2">13</text>
<text transform="translate(141.25,570.85) scale(1.040,1)" font-size="8.0" text-anchor="middle" fill="#2b2b2b" stroke="#2b2b2b" stroke-width="0.2">13</text>
<text transform="translate(159.50,570.85) scale(1.040,1)" font-size="8.0" text-anchor="middle" fill="#2b2b2b" stroke="#2b2b2b" stroke-width="0.2">9</text>
<text transform="translate(177.75,570.85) scale(1.040,1)" font-size="8.0" text-anchor="middle" fill="#2b2b2b" stroke="#2b2b2b" stroke-width="0.2">7</text>
<text transform="translate(196.00,570.85) scale(1.040,1)" font-size="8.0" text-anchor="middle" fill="#2b2b2b" stroke="#2b2b2b" stroke-width="0.2">6</text>
<text transform="translate(214.25,570.85) scale(1.040,1)" font-size="8.0" text-anchor="middle" fill="#2b2b2b" stroke="#2b2b2b" stroke-width="0.2">5</text>
<text transform="translate(232.50,570.85) scale(1.040,1)" font-size="8.0" text-anchor="middle" fill="#2b2b2b" stroke="#2b2b2b" stroke-width="0.2">3</text>
<rect x="29.30" y="574.80" width="8.70" height="3.00" fill="#123466"/>
<text transform="translate(50.00,579.15) scale(1.040,1)" font-size="8.0" text-anchor="middle" fill="#2b2b2b" stroke="#2b2b2b" stroke-width="0.2">7</text>
<text transform="translate(68.25,579.15) scale(1.040,1)" font-size="8.0" text-anchor="middle" fill="#2b2b2b" stroke="#2b2b2b" stroke-width="0.2">7</text>
<text transform="translate(86.50,579.15) scale(1.040,1)" font-size="8.0" text-anchor="middle" fill="#2b2b2b" stroke="#2b2b2b" stroke-width="0.2">7</text>
<text transform="translate(104.75,579.15) scale(1.040,1)" font-size="8.0" text-anchor="middle" fill="#2b2b2b" stroke="#2b2b2b" stroke-width="0.2">2</text>
<text transform="translate(123.00,579.15) scale(1.040,1)" font-size="8.0" text-anchor="middle" fill="#2b2b2b" stroke="#2b2b2b" stroke-width="0.2">0</text>
<text transform="translate(141.25,579.15) scale(1.040,1)" font-size="8.0" text-anchor="middle" fill="#2b2b2b" stroke="#2b2b2b" stroke-width="0.2">0</text>
<text transform="translate(159.50,579.15) scale(1.040,1)" font-size="8.0" text-anchor="middle" fill="#2b2b2b" stroke="#2b2b2b" stroke-width="0.2">0</text>
<text transform="translate(177.75,579.15) scale(1.040,1)" font-size="8.0" text-anchor="middle" fill="#2b2b2b" stroke="#2b2b2b" stroke-width="0.2">0</text>
<text transform="translate(196.00,579.15) scale(1.040,1)" font-size="8.0" text-anchor="middle" fill="#2b2b2b" stroke="#2b2b2b" stroke-width="0.2">0</text>
<text transform="translate(214.25,579.15) scale(1.040,1)" font-size="8.0" text-anchor="middle" fill="#2b2b2b" stroke="#2b2b2b" stroke-width="0.2">0</text>
<text transform="translate(232.50,579.15) scale(1.040,1)" font-size="8.0" text-anchor="middle" fill="#2b2b2b" stroke="#2b2b2b" stroke-width="0.2">0</text>
<rect x="29.30" y="583.00" width="8.70" height="3.00" fill="#E4982C"/>
<text transform="translate(50.00,587.35) scale(1.040,1)" font-size="8.0" text-anchor="middle" fill="#2b2b2b" stroke="#2b2b2b" stroke-width="0.2">54</text>
<text transform="translate(68.25,587.35) scale(1.040,1)" font-size="8.0" text-anchor="middle" fill="#2b2b2b" stroke="#2b2b2b" stroke-width="0.2">50</text>
<text transform="translate(86.50,587.35) scale(1.040,1)" font-size="8.0" text-anchor="middle" fill="#2b2b2b" stroke="#2b2b2b" stroke-width="0.2">43</text>
<text transform="translate(104.75,587.35) scale(1.040,1)" font-size="8.0" text-anchor="middle" fill="#2b2b2b" stroke="#2b2b2b" stroke-width="0.2">36</text>
<text transform="translate(123.00,587.35) scale(1.040,1)" font-size="8.0" text-anchor="middle" fill="#2b2b2b" stroke="#2b2b2b" stroke-width="0.2">28</text>
<text transform="translate(141.25,587.35) scale(1.040,1)" font-size="8.0" text-anchor="middle" fill="#2b2b2b" stroke="#2b2b2b" stroke-width="0.2">23</text>
<text transform="translate(159.50,587.35) scale(1.040,1)" font-size="8.0" text-anchor="middle" fill="#2b2b2b" stroke="#2b2b2b" stroke-width="0.2">19</text>
<text transform="translate(177.75,587.35) scale(1.040,1)" font-size="8.0" text-anchor="middle" fill="#2b2b2b" stroke="#2b2b2b" stroke-width="0.2">14</text>
<text transform="translate(196.00,587.35) scale(1.040,1)" font-size="8.0" text-anchor="middle" fill="#2b2b2b" stroke="#2b2b2b" stroke-width="0.2">10</text>
<text transform="translate(214.25,587.35) scale(1.040,1)" font-size="8.0" text-anchor="middle" fill="#2b2b2b" stroke="#2b2b2b" stroke-width="0.2">9</text>
<text transform="translate(232.50,587.35) scale(1.040,1)" font-size="8.0" text-anchor="middle" fill="#2b2b2b" stroke="#2b2b2b" stroke-width="0.2">5</text>
<rect x="29.30" y="591.20" width="8.70" height="3.00" fill="#9C0E30"/>
<text transform="translate(50.00,595.55) scale(1.040,1)" font-size="8.0" text-anchor="middle" fill="#2b2b2b" stroke="#2b2b2b" stroke-width="0.2">29</text>
<text transform="translate(68.25,595.55) scale(1.040,1)" font-size="8.0" text-anchor="middle" fill="#2b2b2b" stroke="#2b2b2b" stroke-width="0.2">24</text>
<text transform="translate(86.50,595.55) scale(1.040,1)" font-size="8.0" text-anchor="middle" fill="#2b2b2b" stroke="#2b2b2b" stroke-width="0.2">14</text>
<text transform="translate(104.75,595.55) scale(1.040,1)" font-size="8.0" text-anchor="middle" fill="#2b2b2b" stroke="#2b2b2b" stroke-width="0.2">6</text>
<text transform="translate(123.00,595.55) scale(1.040,1)" font-size="8.0" text-anchor="middle" fill="#2b2b2b" stroke="#2b2b2b" stroke-width="0.2">5</text>
<text transform="translate(141.25,595.55) scale(1.040,1)" font-size="8.0" text-anchor="middle" fill="#2b2b2b" stroke="#2b2b2b" stroke-width="0.2">5</text>
<text transform="translate(159.50,595.55) scale(1.040,1)" font-size="8.0" text-anchor="middle" fill="#2b2b2b" stroke="#2b2b2b" stroke-width="0.2">5</text>
<text transform="translate(177.75,595.55) scale(1.040,1)" font-size="8.0" text-anchor="middle" fill="#2b2b2b" stroke="#2b2b2b" stroke-width="0.2">4</text>
<text transform="translate(196.00,595.55) scale(1.040,1)" font-size="8.0" text-anchor="middle" fill="#2b2b2b" stroke="#2b2b2b" stroke-width="0.2">3</text>
<text transform="translate(214.25,595.55) scale(1.040,1)" font-size="8.0" text-anchor="middle" fill="#2b2b2b" stroke="#2b2b2b" stroke-width="0.2">1</text>
<text transform="translate(232.50,595.55) scale(1.040,1)" font-size="8.0" text-anchor="middle" fill="#2b2b2b" stroke="#2b2b2b" stroke-width="0.2">0</text>
<line x1="40.65" y1="565.00" x2="40.65" y2="597.70" stroke="#1e1e1e" stroke-width="1.5"/>
<line x1="40.00" y1="597.10" x2="241.70" y2="597.10" stroke="#1e1e1e" stroke-width="1.5"/>
<line x1="50.00" y1="597.00" x2="50.00" y2="600.40" stroke="#1e1e1e" stroke-width="1.0"/>
<text transform="translate(50.00,611.40) scale(1.040,1)" font-size="7.6" text-anchor="middle" fill="#2b2b2b" stroke="#2b2b2b" stroke-width="0.2">0</text>
<line x1="68.25" y1="597.00" x2="68.25" y2="600.40" stroke="#1e1e1e" stroke-width="1.0"/>
<text transform="translate(68.25,611.40) scale(1.040,1)" font-size="7.6" text-anchor="middle" fill="#2b2b2b" stroke="#2b2b2b" stroke-width="0.2">1</text>
<line x1="86.50" y1="597.00" x2="86.50" y2="600.40" stroke="#1e1e1e" stroke-width="1.0"/>
<text transform="translate(86.50,611.40) scale(1.040,1)" font-size="7.6" text-anchor="middle" fill="#2b2b2b" stroke="#2b2b2b" stroke-width="0.2">2</text>
<line x1="104.75" y1="597.00" x2="104.75" y2="600.40" stroke="#1e1e1e" stroke-width="1.0"/>
<text transform="translate(104.75,611.40) scale(1.040,1)" font-size="7.6" text-anchor="middle" fill="#2b2b2b" stroke="#2b2b2b" stroke-width="0.2">3</text>
<line x1="123.00" y1="597.00" x2="123.00" y2="600.40" stroke="#1e1e1e" stroke-width="1.0"/>
<text transform="translate(123.00,611.40) scale(1.040,1)" font-size="7.6" text-anchor="middle" fill="#2b2b2b" stroke="#2b2b2b" stroke-width="0.2">4</text>
<line x1="141.25" y1="597.00" x2="141.25" y2="600.40" stroke="#1e1e1e" stroke-width="1.0"/>
<text transform="translate(141.25,611.40) scale(1.040,1)" font-size="7.6" text-anchor="middle" fill="#2b2b2b" stroke="#2b2b2b" stroke-width="0.2">5</text>
<line x1="159.50" y1="597.00" x2="159.50" y2="600.40" stroke="#1e1e1e" stroke-width="1.0"/>
<text transform="translate(159.50,611.40) scale(1.040,1)" font-size="7.6" text-anchor="middle" fill="#2b2b2b" stroke="#2b2b2b" stroke-width="0.2">6</text>
<line x1="177.75" y1="597.00" x2="177.75" y2="600.40" stroke="#1e1e1e" stroke-width="1.0"/>
<text transform="translate(177.75,611.40) scale(1.040,1)" font-size="7.6" text-anchor="middle" fill="#2b2b2b" stroke="#2b2b2b" stroke-width="0.2">7</text>
<line x1="196.00" y1="597.00" x2="196.00" y2="600.40" stroke="#1e1e1e" stroke-width="1.0"/>
<text transform="translate(196.00,611.40) scale(1.040,1)" font-size="7.6" text-anchor="middle" fill="#2b2b2b" stroke="#2b2b2b" stroke-width="0.2">8</text>
<line x1="214.25" y1="597.00" x2="214.25" y2="600.40" stroke="#1e1e1e" stroke-width="1.0"/>
<text transform="translate(214.25,611.40) scale(1.040,1)" font-size="7.6" text-anchor="middle" fill="#2b2b2b" stroke="#2b2b2b" stroke-width="0.2">9</text>
<line x1="232.50" y1="597.00" x2="232.50" y2="600.40" stroke="#1e1e1e" stroke-width="1.0"/>
<text transform="translate(232.50,611.40) scale(1.040,1)" font-size="7.6" text-anchor="middle" fill="#2b2b2b" stroke="#2b2b2b" stroke-width="0.2">10</text>
<text transform="translate(122.70,625.00)" font-size="10.8" font-weight="bold" textLength="38.30" lengthAdjust="spacingAndGlyphs" fill="#2b2b2b" stroke="#2b2b2b" stroke-width="0.2">Time (years)</text>
<text transform="translate(268.90,339.60)" font-size="14.5" font-weight="bold" fill="#000" stroke="#000" stroke-width="0.2">D</text>
<line x1="305.95" y1="346.50" x2="305.95" y2="520.80" stroke="#1e1e1e" stroke-width="1.5"/>
<line x1="305.30" y1="520.20" x2="510.50" y2="520.20" stroke="#1e1e1e" stroke-width="1.5"/>
<line x1="302.80" y1="354.20" x2="306.10" y2="354.20" stroke="#1e1e1e" stroke-width="1.0"/>
<text transform="translate(299.60,356.95) scale(1.030,1)" font-size="7.8" text-anchor="end" fill="#2b2b2b" stroke="#2b2b2b" stroke-width="0.2">1.00</text>
<line x1="302.80" y1="393.62" x2="306.10" y2="393.62" stroke="#1e1e1e" stroke-width="1.0"/>
<text transform="translate(299.60,396.38) scale(1.030,1)" font-size="7.8" text-anchor="end" fill="#2b2b2b" stroke="#2b2b2b" stroke-width="0.2">0.75</text>
<line x1="302.80" y1="433.05" x2="306.10" y2="433.05" stroke="#1e1e1e" stroke-width="1.0"/>
<text transform="translate(299.60,435.80) scale(1.030,1)" font-size="7.8" text-anchor="end" fill="#2b2b2b" stroke="#2b2b2b" stroke-width="0.2">0.50</text>
<line x1="302.80" y1="472.47" x2="306.10" y2="472.47" stroke="#1e1e1e" stroke-width="1.0"/>
<text transform="translate(299.60,475.22) scale(1.030,1)" font-size="7.8" text-anchor="end" fill="#2b2b2b" stroke="#2b2b2b" stroke-width="0.2">0.25</text>
<line x1="302.80" y1="511.90" x2="306.10" y2="511.90" stroke="#1e1e1e" stroke-width="1.0"/>
<text transform="translate(299.60,514.65) scale(1.030,1)" font-size="7.8" text-anchor="end" fill="#2b2b2b" stroke="#2b2b2b" stroke-width="0.2">0.00</text>
<line x1="315.40" y1="520.10" x2="315.40" y2="523.50" stroke="#1e1e1e" stroke-width="1.0"/>
<text transform="translate(315.40,534.10) scale(1.040,1)" font-size="7.6" text-anchor="middle" fill="#2b2b2b" stroke="#2b2b2b" stroke-width="0.2">0</text>
<line x1="330.99" y1="520.10" x2="330.99" y2="523.50" stroke="#1e1e1e" stroke-width="1.0"/>
<text transform="translate(330.99,534.10) scale(1.040,1)" font-size="7.6" text-anchor="middle" fill="#2b2b2b" stroke="#2b2b2b" stroke-width="0.2">1</text>
<line x1="346.58" y1="520.10" x2="346.58" y2="523.50" stroke="#1e1e1e" stroke-width="1.0"/>
<text transform="translate(346.58,534.10) scale(1.040,1)" font-size="7.6" text-anchor="middle" fill="#2b2b2b" stroke="#2b2b2b" stroke-width="0.2">2</text>
<line x1="362.17" y1="520.10" x2="362.17" y2="523.50" stroke="#1e1e1e" stroke-width="1.0"/>
<text transform="translate(362.17,534.10) scale(1.040,1)" font-size="7.6" text-anchor="middle" fill="#2b2b2b" stroke="#2b2b2b" stroke-width="0.2">3</text>
<line x1="377.76" y1="520.10" x2="377.76" y2="523.50" stroke="#1e1e1e" stroke-width="1.0"/>
<text transform="translate(377.76,534.10) scale(1.040,1)" font-size="7.6" text-anchor="middle" fill="#2b2b2b" stroke="#2b2b2b" stroke-width="0.2">4</text>
<line x1="393.35" y1="520.10" x2="393.35" y2="523.50" stroke="#1e1e1e" stroke-width="1.0"/>
<text transform="translate(393.35,534.10) scale(1.040,1)" font-size="7.6" text-anchor="middle" fill="#2b2b2b" stroke="#2b2b2b" stroke-width="0.2">5</text>
<line x1="408.94" y1="520.10" x2="408.94" y2="523.50" stroke="#1e1e1e" stroke-width="1.0"/>
<text transform="translate(408.94,534.10) scale(1.040,1)" font-size="7.6" text-anchor="middle" fill="#2b2b2b" stroke="#2b2b2b" stroke-width="0.2">6</text>
<line x1="424.53" y1="520.10" x2="424.53" y2="523.50" stroke="#1e1e1e" stroke-width="1.0"/>
<text transform="translate(424.53,534.10) scale(1.040,1)" font-size="7.6" text-anchor="middle" fill="#2b2b2b" stroke="#2b2b2b" stroke-width="0.2">7</text>
<line x1="440.12" y1="520.10" x2="440.12" y2="523.50" stroke="#1e1e1e" stroke-width="1.0"/>
<text transform="translate(440.12,534.10) scale(1.040,1)" font-size="7.6" text-anchor="middle" fill="#2b2b2b" stroke="#2b2b2b" stroke-width="0.2">8</text>
<line x1="455.71" y1="520.10" x2="455.71" y2="523.50" stroke="#1e1e1e" stroke-width="1.0"/>
<text transform="translate(455.71,534.10) scale(1.040,1)" font-size="7.6" text-anchor="middle" fill="#2b2b2b" stroke="#2b2b2b" stroke-width="0.2">9</text>
<line x1="471.30" y1="520.10" x2="471.30" y2="523.50" stroke="#1e1e1e" stroke-width="1.0"/>
<text transform="translate(471.30,534.10) scale(1.040,1)" font-size="7.6" text-anchor="middle" fill="#2b2b2b" stroke="#2b2b2b" stroke-width="0.2">10</text>
<line x1="486.89" y1="520.10" x2="486.89" y2="523.50" stroke="#1e1e1e" stroke-width="1.0"/>
<text transform="translate(486.89,534.10) scale(1.040,1)" font-size="7.6" text-anchor="middle" fill="#2b2b2b" stroke="#2b2b2b" stroke-width="0.2">11</text>
<line x1="502.48" y1="520.10" x2="502.48" y2="523.50" stroke="#1e1e1e" stroke-width="1.0"/>
<text transform="translate(502.48,534.10) scale(1.040,1)" font-size="7.6" text-anchor="middle" fill="#2b2b2b" stroke="#2b2b2b" stroke-width="0.2">12</text>
<text transform="translate(389.50,547.80)" font-size="10.8" font-weight="bold" textLength="38.50" lengthAdjust="spacingAndGlyphs" fill="#2b2b2b" stroke="#2b2b2b" stroke-width="0.2">Time (years)</text>
<text transform="translate(276.50,433.40) rotate(-90)" font-size="10.3" text-anchor="middle" textLength="76.00" lengthAdjust="spacingAndGlyphs" fill="#2b2b2b" stroke="#2b2b2b" stroke-width="0.25">Progression-free survival</text>
<line x1="462.70" y1="350.60" x2="471.00" y2="350.60" stroke="#3BA3D4" stroke-width="1.3"/>
<line x1="466.85" y1="348.60" x2="466.85" y2="352.60" stroke="#3BA3D4" stroke-width="1.0"/>
<text transform="translate(474.80,353.20)" font-size="7.7" textLength="36.00" lengthAdjust="spacingAndGlyphs" fill="#2b2b2b" stroke="#2b2b2b" stroke-width="0.2">double neg</text>
<line x1="462.70" y1="360.70" x2="471.00" y2="360.70" stroke="#183A68" stroke-width="1.3"/>
<line x1="466.85" y1="358.70" x2="466.85" y2="362.70" stroke="#183A68" stroke-width="1.0"/>
<text transform="translate(474.80,363.30)" font-size="7.7" textLength="37.00" lengthAdjust="spacingAndGlyphs" fill="#2b2b2b" stroke="#2b2b2b" stroke-width="0.2">lm+/MRD–</text>
<line x1="462.70" y1="370.80" x2="471.00" y2="370.80" stroke="#EC9D2E" stroke-width="1.3"/>
<line x1="466.85" y1="368.80" x2="466.85" y2="372.80" stroke="#EC9D2E" stroke-width="1.0"/>
<text transform="translate(474.80,373.40)" font-size="7.7" textLength="37.00" lengthAdjust="spacingAndGlyphs" fill="#2b2b2b" stroke="#2b2b2b" stroke-width="0.2">lm–/MRD+</text>
<line x1="462.70" y1="381.00" x2="471.00" y2="381.00" stroke="#981B41" stroke-width="1.3"/>
<line x1="466.85" y1="379.00" x2="466.85" y2="383.00" stroke="#981B41" stroke-width="1.0"/>
<text transform="translate(474.80,383.60)" font-size="7.7" textLength="36.00" lengthAdjust="spacingAndGlyphs" fill="#2b2b2b" stroke="#2b2b2b" stroke-width="0.2">double pos</text>
<text transform="translate(301.90,560.90)" font-size="7.2" textLength="46.90" lengthAdjust="spacingAndGlyphs" fill="#2b2b2b" stroke="#2b2b2b" stroke-width="0.2">Number at risk</text>
<rect x="289.70" y="566.10" width="8.30" height="3.00" fill="#3AA3CC"/>
<text transform="translate(310.70,570.45) scale(1.040,1)" font-size="8.0" text-anchor="middle" fill="#2b2b2b" stroke="#2b2b2b" stroke-width="0.2">35</text>
<text transform="translate(326.68,570.45) scale(1.040,1)" font-size="8.0" text-anchor="middle" fill="#2b2b2b" stroke="#2b2b2b" stroke-width="0.2">35</text>
<text transform="translate(342.66,570.45) scale(1.040,1)" font-size="8.0" text-anchor="middle" fill="#2b2b2b" stroke="#2b2b2b" stroke-width="0.2">29</text>
<text transform="translate(358.64,570.45) scale(1.040,1)" font-size="8.0" text-anchor="middle" fill="#2b2b2b" stroke="#2b2b2b" stroke-width="0.2">25</text>
<text transform="translate(374.62,570.45) scale(1.040,1)" font-size="8.0" text-anchor="middle" fill="#2b2b2b" stroke="#2b2b2b" stroke-width="0.2">23</text>
<text transform="translate(390.60,570.45) scale(1.040,1)" font-size="8.0" text-anchor="middle" fill="#2b2b2b" stroke="#2b2b2b" stroke-width="0.2">22</text>
<text transform="translate(406.58,570.45) scale(1.040,1)" font-size="8.0" text-anchor="middle" fill="#2b2b2b" stroke="#2b2b2b" stroke-width="0.2">17</text>
<text transform="translate(422.56,570.45) scale(1.040,1)" font-size="8.0" text-anchor="middle" fill="#2b2b2b" stroke="#2b2b2b" stroke-width="0.2">14</text>
<text transform="translate(438.54,570.45) scale(1.040,1)" font-size="8.0" text-anchor="middle" fill="#2b2b2b" stroke="#2b2b2b" stroke-width="0.2">13</text>
<text transform="translate(454.52,570.45) scale(1.040,1)" font-size="8.0" text-anchor="middle" fill="#2b2b2b" stroke="#2b2b2b" stroke-width="0.2">10</text>
<text transform="translate(470.50,570.45) scale(1.040,1)" font-size="8.0" text-anchor="middle" fill="#2b2b2b" stroke="#2b2b2b" stroke-width="0.2">7</text>
<text transform="translate(486.48,570.45) scale(1.040,1)" font-size="8.0" text-anchor="middle" fill="#2b2b2b" stroke="#2b2b2b" stroke-width="0.2">3</text>
<text transform="translate(502.46,570.45) scale(1.040,1)" font-size="8.0" text-anchor="middle" fill="#2b2b2b" stroke="#2b2b2b" stroke-width="0.2">0</text>
<rect x="289.70" y="574.50" width="8.30" height="3.00" fill="#123466"/>
<text transform="translate(310.70,578.85) scale(1.040,1)" font-size="8.0" text-anchor="middle" fill="#2b2b2b" stroke="#2b2b2b" stroke-width="0.2">8</text>
<text transform="translate(326.68,578.85) scale(1.040,1)" font-size="8.0" text-anchor="middle" fill="#2b2b2b" stroke="#2b2b2b" stroke-width="0.2">6</text>
<text transform="translate(342.66,578.85) scale(1.040,1)" font-size="8.0" text-anchor="middle" fill="#2b2b2b" stroke="#2b2b2b" stroke-width="0.2">5</text>
<text transform="translate(358.64,578.85) scale(1.040,1)" font-size="8.0" text-anchor="middle" fill="#2b2b2b" stroke="#2b2b2b" stroke-width="0.2">3</text>
<text transform="translate(374.62,578.85) scale(1.040,1)" font-size="8.0" text-anchor="middle" fill="#2b2b2b" stroke="#2b2b2b" stroke-width="0.2">2</text>
<text transform="translate(390.60,578.85) scale(1.040,1)" font-size="8.0" text-anchor="middle" fill="#2b2b2b" stroke="#2b2b2b" stroke-width="0.2">2</text>
<text transform="translate(406.58,578.85) scale(1.040,1)" font-size="8.0" text-anchor="middle" fill="#2b2b2b" stroke="#2b2b2b" stroke-width="0.2">2</text>
<text transform="translate(422.56,578.85) scale(1.040,1)" font-size="8.0" text-anchor="middle" fill="#2b2b2b" stroke="#2b2b2b" stroke-width="0.2">2</text>
<text transform="translate(438.54,578.85) scale(1.040,1)" font-size="8.0" text-anchor="middle" fill="#2b2b2b" stroke="#2b2b2b" stroke-width="0.2">1</text>
<text transform="translate(454.52,578.85) scale(1.040,1)" font-size="8.0" text-anchor="middle" fill="#2b2b2b" stroke="#2b2b2b" stroke-width="0.2">1</text>
<text transform="translate(470.50,578.85) scale(1.040,1)" font-size="8.0" text-anchor="middle" fill="#2b2b2b" stroke="#2b2b2b" stroke-width="0.2">0</text>
<text transform="translate(486.48,578.85) scale(1.040,1)" font-size="8.0" text-anchor="middle" fill="#2b2b2b" stroke="#2b2b2b" stroke-width="0.2">0</text>
<text transform="translate(502.46,578.85) scale(1.040,1)" font-size="8.0" text-anchor="middle" fill="#2b2b2b" stroke="#2b2b2b" stroke-width="0.2">0</text>
<rect x="289.70" y="583.00" width="8.30" height="3.00" fill="#E4982C"/>
<text transform="translate(310.70,587.35) scale(1.040,1)" font-size="8.0" text-anchor="middle" fill="#2b2b2b" stroke="#2b2b2b" stroke-width="0.2">43</text>
<text transform="translate(326.68,587.35) scale(1.040,1)" font-size="8.0" text-anchor="middle" fill="#2b2b2b" stroke="#2b2b2b" stroke-width="0.2">41</text>
<text transform="translate(342.66,587.35) scale(1.040,1)" font-size="8.0" text-anchor="middle" fill="#2b2b2b" stroke="#2b2b2b" stroke-width="0.2">38</text>
<text transform="translate(358.64,587.35) scale(1.040,1)" font-size="8.0" text-anchor="middle" fill="#2b2b2b" stroke="#2b2b2b" stroke-width="0.2">32</text>
<text transform="translate(374.62,587.35) scale(1.040,1)" font-size="8.0" text-anchor="middle" fill="#2b2b2b" stroke="#2b2b2b" stroke-width="0.2">26</text>
<text transform="translate(390.60,587.35) scale(1.040,1)" font-size="8.0" text-anchor="middle" fill="#2b2b2b" stroke="#2b2b2b" stroke-width="0.2">24</text>
<text transform="translate(406.58,587.35) scale(1.040,1)" font-size="8.0" text-anchor="middle" fill="#2b2b2b" stroke="#2b2b2b" stroke-width="0.2">21</text>
<text transform="translate(422.56,587.35) scale(1.040,1)" font-size="8.0" text-anchor="middle" fill="#2b2b2b" stroke="#2b2b2b" stroke-width="0.2">18</text>
<text transform="translate(438.54,587.35) scale(1.040,1)" font-size="8.0" text-anchor="middle" fill="#2b2b2b" stroke="#2b2b2b" stroke-width="0.2">15</text>
<text transform="translate(454.52,587.35) scale(1.040,1)" font-size="8.0" text-anchor="middle" fill="#2b2b2b" stroke="#2b2b2b" stroke-width="0.2">12</text>
<text transform="translate(470.50,587.35) scale(1.040,1)" font-size="8.0" text-anchor="middle" fill="#2b2b2b" stroke="#2b2b2b" stroke-width="0.2">7</text>
<text transform="translate(486.48,587.35) scale(1.040,1)" font-size="8.0" text-anchor="middle" fill="#2b2b2b" stroke="#2b2b2b" stroke-width="0.2">1</text>
<text transform="translate(502.46,587.35) scale(1.040,1)" font-size="8.0" text-anchor="middle" fill="#2b2b2b" stroke="#2b2b2b" stroke-width="0.2">0</text>
<rect x="289.70" y="591.40" width="8.30" height="3.00" fill="#9C0E30"/>
<text transform="translate(310.70,595.75) scale(1.040,1)" font-size="8.0" text-anchor="middle" fill="#2b2b2b" stroke="#2b2b2b" stroke-width="0.2">17</text>
<text transform="translate(326.68,595.75) scale(1.040,1)" font-size="8.0" text-anchor="middle" fill="#2b2b2b" stroke="#2b2b2b" stroke-width="0.2">15</text>
<text transform="translate(342.66,595.75) scale(1.040,1)" font-size="8.0" text-anchor="middle" fill="#2b2b2b" stroke="#2b2b2b" stroke-width="0.2">8</text>
<text transform="translate(358.64,595.75) scale(1.040,1)" font-size="8.0" text-anchor="middle" fill="#2b2b2b" stroke="#2b2b2b" stroke-width="0.2">3</text>
<text transform="translate(374.62,595.75) scale(1.040,1)" font-size="8.0" text-anchor="middle" fill="#2b2b2b" stroke="#2b2b2b" stroke-width="0.2">1</text>
<text transform="translate(390.60,595.75) scale(1.040,1)" font-size="8.0" text-anchor="middle" fill="#2b2b2b" stroke="#2b2b2b" stroke-width="0.2">1</text>
<text transform="translate(406.58,595.75) scale(1.040,1)" font-size="8.0" text-anchor="middle" fill="#2b2b2b" stroke="#2b2b2b" stroke-width="0.2">1</text>
<text transform="translate(422.56,595.75) scale(1.040,1)" font-size="8.0" text-anchor="middle" fill="#2b2b2b" stroke="#2b2b2b" stroke-width="0.2">0</text>
<text transform="translate(438.54,595.75) scale(1.040,1)" font-size="8.0" text-anchor="middle" fill="#2b2b2b" stroke="#2b2b2b" stroke-width="0.2">0</text>
<text transform="translate(454.52,595.75) scale(1.040,1)" font-size="8.0" text-anchor="middle" fill="#2b2b2b" stroke="#2b2b2b" stroke-width="0.2">0</text>
<text transform="translate(470.50,595.75) scale(1.040,1)" font-size="8.0" text-anchor="middle" fill="#2b2b2b" stroke="#2b2b2b" stroke-width="0.2">0</text>
<text transform="translate(486.48,595.75) scale(1.040,1)" font-size="8.0" text-anchor="middle" fill="#2b2b2b" stroke="#2b2b2b" stroke-width="0.2">0</text>
<text transform="translate(502.46,595.75) scale(1.040,1)" font-size="8.0" text-anchor="middle" fill="#2b2b2b" stroke="#2b2b2b" stroke-width="0.2">0</text>
<line x1="301.75" y1="564.50" x2="301.75" y2="598.30" stroke="#1e1e1e" stroke-width="1.5"/>
<line x1="301.10" y1="597.70" x2="511.70" y2="597.70" stroke="#1e1e1e" stroke-width="1.5"/>
<line x1="310.70" y1="597.60" x2="310.70" y2="601.00" stroke="#1e1e1e" stroke-width="1.0"/>
<text transform="translate(310.70,611.20) scale(1.040,1)" font-size="7.6" text-anchor="middle" fill="#2b2b2b" stroke="#2b2b2b" stroke-width="0.2">0</text>
<line x1="326.68" y1="597.60" x2="326.68" y2="601.00" stroke="#1e1e1e" stroke-width="1.0"/>
<text transform="translate(326.68,611.20) scale(1.040,1)" font-size="7.6" text-anchor="middle" fill="#2b2b2b" stroke="#2b2b2b" stroke-width="0.2">1</text>
<line x1="342.66" y1="597.60" x2="342.66" y2="601.00" stroke="#1e1e1e" stroke-width="1.0"/>
<text transform="translate(342.66,611.20) scale(1.040,1)" font-size="7.6" text-anchor="middle" fill="#2b2b2b" stroke="#2b2b2b" stroke-width="0.2">2</text>
<line x1="358.64" y1="597.60" x2="358.64" y2="601.00" stroke="#1e1e1e" stroke-width="1.0"/>
<text transform="translate(358.64,611.20) scale(1.040,1)" font-size="7.6" text-anchor="middle" fill="#2b2b2b" stroke="#2b2b2b" stroke-width="0.2">3</text>
<line x1="374.62" y1="597.60" x2="374.62" y2="601.00" stroke="#1e1e1e" stroke-width="1.0"/>
<text transform="translate(374.62,611.20) scale(1.040,1)" font-size="7.6" text-anchor="middle" fill="#2b2b2b" stroke="#2b2b2b" stroke-width="0.2">4</text>
<line x1="390.60" y1="597.60" x2="390.60" y2="601.00" stroke="#1e1e1e" stroke-width="1.0"/>
<text transform="translate(390.60,611.20) scale(1.040,1)" font-size="7.6" text-anchor="middle" fill="#2b2b2b" stroke="#2b2b2b" stroke-width="0.2">5</text>
<line x1="406.58" y1="597.60" x2="406.58" y2="601.00" stroke="#1e1e1e" stroke-width="1.0"/>
<text transform="translate(406.58,611.20) scale(1.040,1)" font-size="7.6" text-anchor="middle" fill="#2b2b2b" stroke="#2b2b2b" stroke-width="0.2">6</text>
<line x1="422.56" y1="597.60" x2="422.56" y2="601.00" stroke="#1e1e1e" stroke-width="1.0"/>
<text transform="translate(422.56,611.20) scale(1.040,1)" font-size="7.6" text-anchor="middle" fill="#2b2b2b" stroke="#2b2b2b" stroke-width="0.2">7</text>
<line x1="438.54" y1="597.60" x2="438.54" y2="601.00" stroke="#1e1e1e" stroke-width="1.0"/>
<text transform="translate(438.54,611.20) scale(1.040,1)" font-size="7.6" text-anchor="middle" fill="#2b2b2b" stroke="#2b2b2b" stroke-width="0.2">8</text>
<line x1="454.52" y1="597.60" x2="454.52" y2="601.00" stroke="#1e1e1e" stroke-width="1.0"/>
<text transform="translate(454.52,611.20) scale(1.040,1)" font-size="7.6" text-anchor="middle" fill="#2b2b2b" stroke="#2b2b2b" stroke-width="0.2">9</text>
<line x1="470.50" y1="597.60" x2="470.50" y2="601.00" stroke="#1e1e1e" stroke-width="1.0"/>
<text transform="translate(470.50,611.20) scale(1.040,1)" font-size="7.6" text-anchor="middle" fill="#2b2b2b" stroke="#2b2b2b" stroke-width="0.2">10</text>
<line x1="486.48" y1="597.60" x2="486.48" y2="601.00" stroke="#1e1e1e" stroke-width="1.0"/>
<text transform="translate(486.48,611.20) scale(1.040,1)" font-size="7.6" text-anchor="middle" fill="#2b2b2b" stroke="#2b2b2b" stroke-width="0.2">11</text>
<line x1="502.46" y1="597.60" x2="502.46" y2="601.00" stroke="#1e1e1e" stroke-width="1.0"/>
<text transform="translate(502.46,611.20) scale(1.040,1)" font-size="7.6" text-anchor="middle" fill="#2b2b2b" stroke="#2b2b2b" stroke-width="0.2">12</text>
<text transform="translate(387.30,624.80)" font-size="10.8" font-weight="bold" textLength="39.00" lengthAdjust="spacingAndGlyphs" fill="#2b2b2b" stroke="#2b2b2b" stroke-width="0.2">Time (years)</text>
<text transform="translate(66.80,177.20)" font-size="8.2" textLength="32.20" lengthAdjust="spacingAndGlyphs" fill="#2b2b2b" stroke="#2b2b2b" stroke-width="0.2"><tspan font-style="italic">P</tspan> &lt; .0001</text>
<path d="M54.50,34.60H62.00H62.75V35.80H63.50H63.95V37.25H64.85V38.70H65.30H66.75V41.00H68.20H69.60V43.30H71.00H71.75V44.65H73.25V46.00H74.00H74.37V47.40H75.10V48.80H75.83V50.20H76.20H76.80V52.00H77.40H80.85V52.50H84.30H85.45V54.80H86.60H88.30V57.10H90.00H91.75V58.30H93.50H95.50V58.60H97.50H98.20V59.97H99.60V61.33H101.00V62.70H101.70H103.15V65.00H104.60H106.05V65.60H107.50H107.92V67.05H108.78V68.50H109.20H110.35V70.80H111.50H112.65V72.50H113.80H115.55V74.20H117.30H119.05V76.00H120.80H121.08V77.40H121.62V78.80H121.90H122.62V80.55H124.08V82.30H124.80H126.25V84.00H127.70H132.30H133.45V86.30H134.60H135.18V88.05H136.32V89.80H136.90H138.05V91.50H139.20H140.95V92.10H142.70H143.85V93.50H145.00H146.75V95.40H148.50H149.07V97.10H150.23V98.80H150.80H151.23V100.00H152.07V101.20H152.50H156.25V101.70H160.00H160.85V102.90H161.70H162.15V104.60H163.05V106.30H163.50H163.75V108.10H164.00H168.05V108.70H172.10H172.95V110.40H173.80H175.55V111.00H177.30H177.90V112.10H178.50H184.25V112.70H190.00H190.85V114.40H191.70H234.80V133.70H246.90" fill="none" stroke="#3BA3D4" stroke-width="1.2" stroke-linejoin="miter"/>
<path d="M97.00,56.40V60.80M95.50,58.60H98.50" stroke="#3BA3D4" stroke-width="1.2" fill="none"/>
<path d="M100.50,56.40V60.80M99.00,58.60H102.00" stroke="#3BA3D4" stroke-width="1.2" fill="none"/>
<path d="M120.00,73.80V78.20M118.50,76.00H121.50" stroke="#3BA3D4" stroke-width="1.2" fill="none"/>
<path d="M140.00,89.40V93.80M138.50,91.60H141.50" stroke="#3BA3D4" stroke-width="1.2" fill="none"/>
<path d="M199.00,112.20V116.60M197.50,114.40H200.50" stroke="#3BA3D4" stroke-width="1.2" fill="none"/>
<path d="M201.90,112.20V116.60M200.40,114.40H203.40" stroke="#3BA3D4" stroke-width="1.2" fill="none"/>
<path d="M204.20,112.20V116.60M202.70,114.40H205.70" stroke="#3BA3D4" stroke-width="1.2" fill="none"/>
<path d="M206.00,112.20V116.60M204.50,114.40H207.50" stroke="#3BA3D4" stroke-width="1.2" fill="none"/>
<path d="M210.00,112.20V116.60M208.50,114.40H211.50" stroke="#3BA3D4" stroke-width="1.2" fill="none"/>
<path d="M214.00,112.20V116.60M212.50,114.40H215.50" stroke="#3BA3D4" stroke-width="1.2" fill="none"/>
<path d="M216.90,112.20V116.60M215.40,114.40H218.40" stroke="#3BA3D4" stroke-width="1.2" fill="none"/>
<path d="M219.20,112.20V116.60M217.70,114.40H220.70" stroke="#3BA3D4" stroke-width="1.2" fill="none"/>
<path d="M224.40,112.20V116.60M222.90,114.40H225.90" stroke="#3BA3D4" stroke-width="1.2" fill="none"/>
<path d="M226.70,112.20V116.60M225.20,114.40H228.20" stroke="#3BA3D4" stroke-width="1.2" fill="none"/>
<path d="M229.00,112.20V116.60M227.50,114.40H230.50" stroke="#3BA3D4" stroke-width="1.2" fill="none"/>
<path d="M231.90,112.20V116.60M230.40,114.40H233.40" stroke="#3BA3D4" stroke-width="1.2" fill="none"/>
<path d="M242.30,131.50V135.90M240.80,133.70H243.80" stroke="#3BA3D4" stroke-width="1.2" fill="none"/>
<path d="M245.80,131.50V135.90M244.30,133.70H247.30" stroke="#3BA3D4" stroke-width="1.2" fill="none"/>
<path d="M54.50,34.60H65.60V112.90H90.60" fill="none" stroke="#274C7E" stroke-width="1.2" stroke-linejoin="miter"/>
<path d="M90.60,110.70V115.10M89.10,112.90H92.10" stroke="#274C7E" stroke-width="1.2" fill="none"/>
<path d="M54.50,34.60H73.30V43.60H79.50V51.90H86.00V60.60H87.20V69.80H88.80V78.50H90.60V86.90H92.60V94.50H93.30V96.50H95.10V103.50H98.50V106.60H99.60V110.40H100.80V118.00H101.50V124.00H103.00V130.60H105.80V139.20H164.60V157.00H207.30" fill="none" stroke="#EC9D2E" stroke-width="1.2" stroke-linejoin="miter"/>
<path d="M109.30,137.00V141.40M107.80,139.20H110.80" stroke="#EC9D2E" stroke-width="1.2" fill="none"/>
<path d="M113.30,137.00V141.40M111.80,139.20H114.80" stroke="#EC9D2E" stroke-width="1.2" fill="none"/>
<path d="M120.30,137.00V141.40M118.80,139.20H121.80" stroke="#EC9D2E" stroke-width="1.2" fill="none"/>
<path d="M188.30,154.80V159.20M186.80,157.00H189.80" stroke="#EC9D2E" stroke-width="1.2" fill="none"/>
<path d="M205.60,154.80V159.20M204.10,157.00H207.10" stroke="#EC9D2E" stroke-width="1.2" fill="none"/>
<path d="M54.50,34.60H61.00V41.50H65.30V53.00H66.50V56.50H69.30V58.30H71.00V60.60H72.30V62.90H73.40V64.60H74.50V66.40H75.70V68.10H76.80V70.40H77.90V83.10H79.00V86.40H87.10V89.70H90.60V94.20H92.30V96.30H94.40V100.70H95.80V102.10H98.20V105.60H99.20V110.40H100.30V113.20H104.20V121.40H109.30V124.80H116.20V128.80H119.90V132.90H138.70V142.10H149.60V146.00H153.70V152.30H169.20V159.10H200.50V165.40H240.80" fill="none" stroke="#981B41" stroke-width="1.2" stroke-linejoin="miter"/>
<path d="M72.50,58.40V62.80M71.00,60.60H74.00" stroke="#981B41" stroke-width="1.2" fill="none"/>
<path d="M77.90,69.30V73.70M76.40,71.50H79.40" stroke="#981B41" stroke-width="1.2" fill="none"/>
<path d="M124.90,130.70V135.10M123.40,132.90H126.40" stroke="#981B41" stroke-width="1.2" fill="none"/>
<path d="M145.00,139.90V144.30M143.50,142.10H146.50" stroke="#981B41" stroke-width="1.2" fill="none"/>
<path d="M150.80,143.80V148.20M149.30,146.00H152.30" stroke="#981B41" stroke-width="1.2" fill="none"/>
<path d="M156.00,150.10V154.50M154.50,152.30H157.50" stroke="#981B41" stroke-width="1.2" fill="none"/>
<path d="M200.60,163.20V167.60M199.10,165.40H202.10" stroke="#981B41" stroke-width="1.2" fill="none"/>
<path d="M217.10,163.20V167.60M215.60,165.40H218.60" stroke="#981B41" stroke-width="1.2" fill="none"/>
<path d="M239.60,163.20V167.60M238.10,165.40H241.10" stroke="#981B41" stroke-width="1.2" fill="none"/>
<line x1="54.20" y1="113.00" x2="191.30" y2="113.00" stroke="#151515" stroke-width="1.25" stroke-dasharray="2.4,1.4"/>
<line x1="65.60" y1="113.00" x2="65.60" y2="192.00" stroke="#151515" stroke-width="1.25" stroke-dasharray="2.4,1.4"/>
<line x1="100.40" y1="113.00" x2="100.40" y2="192.00" stroke="#151515" stroke-width="1.25" stroke-dasharray="2.4,1.4"/>
<line x1="191.30" y1="113.00" x2="191.30" y2="192.00" stroke="#151515" stroke-width="1.25" stroke-dasharray="2.4,1.4"/>
<text transform="translate(327.30,137.60)" font-size="8.2" textLength="31.20" lengthAdjust="spacingAndGlyphs" fill="#2b2b2b" stroke="#2b2b2b" stroke-width="0.2"><tspan font-style="italic">P</tspan> &lt; .0001</text>
<path d="M314.60,49.50H330.50V51.00H331.50V52.10H343.50H345.15V53.20H346.80H347.95V55.50H349.10H349.53V57.00H350.38V58.50H350.80H351.65V59.30H352.50H353.50V60.60H355.50V61.90H356.50H358.25V63.70H360.00H361.75V65.40H363.50H365.20V66.50H366.90H369.20V67.70H371.50H373.25V69.40H375.00H376.75V71.20H378.50H380.20V72.90H381.90H383.65V75.20H385.40H387.70V77.50H390.00H391.75V79.20H393.50H395.20V80.40H396.90H398.65V82.30H400.40H402.50V84.40H404.60H405.20V85.60H405.80H431.20H432.35V87.30H433.50H434.65V88.50H435.80H437.50V90.20H439.20H440.95V91.30H442.70H443.95V93.30H445.20H466.50V100.80H485.00" fill="none" stroke="#3BA3D4" stroke-width="1.2" stroke-linejoin="miter"/>
<path d="M335.30,49.90V54.30M333.80,52.10H336.80" stroke="#3BA3D4" stroke-width="1.2" fill="none"/>
<path d="M354.40,57.60V62.00M352.90,59.80H355.90" stroke="#3BA3D4" stroke-width="1.2" fill="none"/>
<path d="M368.00,64.60V69.00M366.50,66.80H369.50" stroke="#3BA3D4" stroke-width="1.2" fill="none"/>
<path d="M423.10,83.40V87.80M421.60,85.60H424.60" stroke="#3BA3D4" stroke-width="1.2" fill="none"/>
<path d="M428.30,83.40V87.80M426.80,85.60H429.80" stroke="#3BA3D4" stroke-width="1.2" fill="none"/>
<path d="M446.90,91.10V95.50M445.40,93.30H448.40" stroke="#3BA3D4" stroke-width="1.2" fill="none"/>
<path d="M452.70,91.10V95.50M451.20,93.30H454.20" stroke="#3BA3D4" stroke-width="1.2" fill="none"/>
<path d="M455.00,91.10V95.50M453.50,93.30H456.50" stroke="#3BA3D4" stroke-width="1.2" fill="none"/>
<path d="M457.30,91.10V95.50M455.80,93.30H458.80" stroke="#3BA3D4" stroke-width="1.2" fill="none"/>
<path d="M459.60,91.10V95.50M458.10,93.30H461.10" stroke="#3BA3D4" stroke-width="1.2" fill="none"/>
<path d="M464.80,91.10V95.50M463.30,93.30H466.30" stroke="#3BA3D4" stroke-width="1.2" fill="none"/>
<path d="M468.80,98.60V103.00M467.30,100.80H470.30" stroke="#3BA3D4" stroke-width="1.2" fill="none"/>
<path d="M471.70,98.60V103.00M470.20,100.80H473.20" stroke="#3BA3D4" stroke-width="1.2" fill="none"/>
<path d="M474.60,98.60V103.00M473.10,100.80H476.10" stroke="#3BA3D4" stroke-width="1.2" fill="none"/>
<path d="M482.70,98.60V103.00M481.20,100.80H484.20" stroke="#3BA3D4" stroke-width="1.2" fill="none"/>
<path d="M484.40,98.60V103.00M482.90,100.80H485.90" stroke="#3BA3D4" stroke-width="1.2" fill="none"/>
<path d="M314.60,49.50H332.70V121.40H411.10V193.60" fill="none" stroke="#44669C" stroke-width="1.1" stroke-linejoin="miter"/>
<path d="M314.60,49.50H343.60V57.30H349.40V65.50H357.90V73.50H362.80V81.30H369.40V91.00H373.90V100.10H376.60V110.80H379.50V121.30H387.70V131.60H391.20V142.20H408.60V152.30H459.20V173.50H488.50" fill="none" stroke="#EC9D2E" stroke-width="1.2" stroke-linejoin="miter"/>
<path d="M367.20,79.10V83.50M365.70,81.30H368.70" stroke="#EC9D2E" stroke-width="1.2" fill="none"/>
<path d="M373.30,97.90V102.30M371.80,100.10H374.80" stroke="#EC9D2E" stroke-width="1.2" fill="none"/>
<path d="M433.10,150.10V154.50M431.60,152.30H434.60" stroke="#EC9D2E" stroke-width="1.2" fill="none"/>
<path d="M448.50,150.10V154.50M447.00,152.30H450.00" stroke="#EC9D2E" stroke-width="1.2" fill="none"/>
<path d="M488.10,171.30V175.70M486.60,173.50H489.60" stroke="#EC9D2E" stroke-width="1.2" fill="none"/>
<path d="M314.60,49.50H327.40H327.60V51.50H327.80H327.93V52.80H328.18V54.10H328.30H328.75V56.10H329.20H329.95V57.00H330.70H331.10V58.10H331.50H331.95V59.60H332.40H332.85V61.30H333.30H334.05V62.80H334.80H335.65V64.50H336.50H337.10V66.80H337.70H338.12V68.25H338.97V69.70H339.40H340.00V71.40H340.60H341.45V73.70H342.30H342.90V76.00H343.50H344.05V76.80H344.60H357.20V80.50H358.70V84.80H364.40V88.20H380.40V92.20H389.20V95.60H390.05V96.70H390.90H391.20V99.00H391.50H392.20V100.80H392.90H393.05V102.35H393.35V103.90H393.50H398.50V112.50H400.00V115.80H405.20V121.30H408.40V125.10H433.10V130.80H440.00V136.20H445.40V143.10H470.40V153.10H483.80" fill="none" stroke="#981B41" stroke-width="1.2" stroke-linejoin="miter"/>
<path d="M334.80,60.60V65.00M333.30,62.80H336.30" stroke="#981B41" stroke-width="1.2" fill="none"/>
<path d="M337.70,64.60V69.00M336.20,66.80H339.20" stroke="#981B41" stroke-width="1.2" fill="none"/>
<path d="M346.30,74.60V79.00M344.80,76.80H347.80" stroke="#981B41" stroke-width="1.2" fill="none"/>
<path d="M352.10,74.60V79.00M350.60,76.80H353.60" stroke="#981B41" stroke-width="1.2" fill="none"/>
<path d="M377.10,86.00V90.40M375.60,88.20H378.60" stroke="#981B41" stroke-width="1.2" fill="none"/>
<path d="M394.30,101.70V106.10M392.80,103.90H395.80" stroke="#981B41" stroke-width="1.2" fill="none"/>
<path d="M400.40,113.60V118.00M398.90,115.80H401.90" stroke="#981B41" stroke-width="1.2" fill="none"/>
<path d="M404.80,113.60V118.00M403.30,115.80H406.30" stroke="#981B41" stroke-width="1.2" fill="none"/>
<path d="M410.80,122.90V127.30M409.30,125.10H412.30" stroke="#981B41" stroke-width="1.2" fill="none"/>
<path d="M417.70,122.90V127.30M416.20,125.10H419.20" stroke="#981B41" stroke-width="1.2" fill="none"/>
<path d="M419.20,122.90V127.30M417.70,125.10H420.70" stroke="#981B41" stroke-width="1.2" fill="none"/>
<path d="M429.20,122.90V127.30M427.70,125.10H430.70" stroke="#981B41" stroke-width="1.2" fill="none"/>
<path d="M443.80,134.00V138.40M442.30,136.20H445.30" stroke="#981B41" stroke-width="1.2" fill="none"/>
<path d="M449.20,140.90V145.30M447.70,143.10H450.70" stroke="#981B41" stroke-width="1.2" fill="none"/>
<path d="M458.50,140.90V145.30M457.00,143.10H460.00" stroke="#981B41" stroke-width="1.2" fill="none"/>
<path d="M477.70,150.90V155.30M476.20,153.10H479.20" stroke="#981B41" stroke-width="1.2" fill="none"/>
<path d="M483.10,150.90V155.30M481.60,153.10H484.60" stroke="#981B41" stroke-width="1.2" fill="none"/>
<line x1="314.60" y1="121.40" x2="408.60" y2="121.40" stroke="#151515" stroke-width="1.25" stroke-dasharray="2.4,1.4"/>
<line x1="371.50" y1="121.40" x2="371.50" y2="193.50" stroke="#151515" stroke-width="1.25" stroke-dasharray="2.4,1.4"/>
<line x1="387.50" y1="121.40" x2="387.50" y2="193.50" stroke="#151515" stroke-width="1.25" stroke-dasharray="2.4,1.4"/>
<line x1="408.60" y1="121.40" x2="408.60" y2="193.50" stroke="#151515" stroke-width="1.25" stroke-dasharray="2.4,1.4"/>
<text transform="translate(56.90,499.80)" font-size="8.2" textLength="31.20" lengthAdjust="spacingAndGlyphs" fill="#2b2b2b" stroke="#2b2b2b" stroke-width="0.2"><tspan font-style="italic">P</tspan> &lt; .0001</text>
<path d="M54.00,362.30H73.70V370.80H107.60V379.40H112.50V388.30H121.80V397.30H144.30V406.20H155.80V415.00H195.60V429.20H240.40" fill="none" stroke="#3BA3D4" stroke-width="1.2" stroke-linejoin="miter"/>
<path d="M100.20,368.60V373.00M98.70,370.80H101.70" stroke="#3BA3D4" stroke-width="1.2" fill="none"/>
<path d="M156.30,412.80V417.20M154.80,415.00H157.80" stroke="#3BA3D4" stroke-width="1.2" fill="none"/>
<path d="M169.60,412.80V417.20M168.10,415.00H171.10" stroke="#3BA3D4" stroke-width="1.2" fill="none"/>
<path d="M171.90,412.80V417.20M170.40,415.00H173.40" stroke="#3BA3D4" stroke-width="1.2" fill="none"/>
<path d="M202.30,427.00V431.40M200.80,429.20H203.80" stroke="#3BA3D4" stroke-width="1.2" fill="none"/>
<path d="M215.00,427.00V431.40M213.50,429.20H216.50" stroke="#3BA3D4" stroke-width="1.2" fill="none"/>
<path d="M225.40,427.00V431.40M223.90,429.20H226.90" stroke="#3BA3D4" stroke-width="1.2" fill="none"/>
<path d="M232.30,427.00V431.40M230.80,429.20H233.80" stroke="#3BA3D4" stroke-width="1.2" fill="none"/>
<path d="M239.80,427.00V431.40M238.30,429.20H241.30" stroke="#3BA3D4" stroke-width="1.2" fill="none"/>
<path d="M54.00,362.30H90.30V383.90H94.50V405.20H99.90V426.20H102.60V448.30H106.50V469.80H111.60V491.30H123.70" fill="none" stroke="#274C7E" stroke-width="1.2" stroke-linejoin="miter"/>
<path d="M123.10,489.10V493.50M121.60,491.30H124.60" stroke="#274C7E" stroke-width="1.2" fill="none"/>
<path d="M54.00,362.30H62.00V365.20H66.50V368.70H70.00H70.50V369.50H71.00H71.45V370.40H71.90H72.60V372.10H73.30H73.90V373.30H74.50H74.80V375.30H75.10H75.20V376.67H75.40V378.03H75.60V379.40H75.70H76.55V381.10H77.40H77.83V382.35H78.67V383.60H79.10H81.10V384.60H83.10H85.10V385.20H87.10H87.70V386.90H88.30H88.85V389.20H89.40H90.00V391.50H90.60H91.75V393.80H92.90H93.75V396.20H94.60H95.17V397.60H96.33V399.00H96.90H97.35V400.45H98.25V401.90H98.70H99.12V403.35H99.98V404.80H100.40H106.20H106.75V406.50H107.30H107.90V408.80H108.50H109.65V411.20H110.80H111.65V413.50H112.50H113.35V415.80H114.20H115.35V417.30H116.50H118.25V418.90H120.00H121.15V420.40H122.30H124.05V422.10H125.80H126.95V423.80H128.10H128.45V425.30H129.15V426.80H129.50H137.30H137.60V428.30H138.20V429.80H138.50H139.90V430.30H141.30H143.70H144.45V431.90H145.20H145.50V434.20H145.80H149.20H149.35V435.95H149.65V437.70H149.80H157.90H158.05V439.15H158.35V440.60H158.50H161.35V441.20H164.20H164.65V443.20H165.55V445.20H166.00H166.28V446.65H166.82V448.10H167.10H167.95V449.20H168.80H169.25V450.95H170.15V452.70H170.60H179.80V456.70H190.20V466.50H218.50V471.20H242.70" fill="none" stroke="#EC9D2E" stroke-width="1.2" stroke-linejoin="miter"/>
<path d="M69.50,366.50V370.90M68.00,368.70H71.00" stroke="#EC9D2E" stroke-width="1.2" fill="none"/>
<path d="M114.20,414.30V418.70M112.70,416.50H115.70" stroke="#EC9D2E" stroke-width="1.2" fill="none"/>
<path d="M118.80,415.70V420.10M117.30,417.90H120.30" stroke="#EC9D2E" stroke-width="1.2" fill="none"/>
<path d="M126.90,420.70V425.10M125.40,422.90H128.40" stroke="#EC9D2E" stroke-width="1.2" fill="none"/>
<path d="M142.50,428.10V432.50M141.00,430.30H144.00" stroke="#EC9D2E" stroke-width="1.2" fill="none"/>
<path d="M143.30,428.10V432.50M141.80,430.30H144.80" stroke="#EC9D2E" stroke-width="1.2" fill="none"/>
<path d="M159.60,438.40V442.80M158.10,440.60H161.10" stroke="#EC9D2E" stroke-width="1.2" fill="none"/>
<path d="M168.80,447.00V451.40M167.30,449.20H170.30" stroke="#EC9D2E" stroke-width="1.2" fill="none"/>
<path d="M172.30,450.50V454.90M170.80,452.70H173.80" stroke="#EC9D2E" stroke-width="1.2" fill="none"/>
<path d="M187.90,454.50V458.90M186.40,456.70H189.40" stroke="#EC9D2E" stroke-width="1.2" fill="none"/>
<path d="M187.90,454.50V458.90M186.40,456.70H189.40" stroke="#EC9D2E" stroke-width="1.2" fill="none"/>
<path d="M212.70,464.30V468.70M211.20,466.50H214.20" stroke="#EC9D2E" stroke-width="1.2" fill="none"/>
<path d="M219.60,469.00V473.40M218.10,471.20H221.10" stroke="#EC9D2E" stroke-width="1.2" fill="none"/>
<path d="M223.10,469.00V473.40M221.60,471.20H224.60" stroke="#EC9D2E" stroke-width="1.2" fill="none"/>
<path d="M224.80,469.00V473.40M223.30,471.20H226.30" stroke="#EC9D2E" stroke-width="1.2" fill="none"/>
<path d="M227.70,469.00V473.40M226.20,471.20H229.20" stroke="#EC9D2E" stroke-width="1.2" fill="none"/>
<path d="M235.80,469.00V473.40M234.30,471.20H237.30" stroke="#EC9D2E" stroke-width="1.2" fill="none"/>
<path d="M238.10,469.00V473.40M236.60,471.20H239.60" stroke="#EC9D2E" stroke-width="1.2" fill="none"/>
<path d="M240.40,469.00V473.40M238.90,471.20H241.90" stroke="#EC9D2E" stroke-width="1.2" fill="none"/>
<path d="M242.10,469.00V473.40M240.60,471.20H243.60" stroke="#EC9D2E" stroke-width="1.2" fill="none"/>
<path d="M54.00,362.30H61.20V367.50H66.40V383.40H68.40V388.20H71.40V392.70H76.70V397.30H78.30V399.50H79.40V402.50H80.80V404.80H81.50V414.80H82.50V425.00H86.60V430.80H88.10V432.50H88.80V435.00H90.00V437.30H91.60V441.70H96.40V446.90H98.70V452.00H100.00V456.50H100.70V463.80H106.20V480.20H111.50V486.10H186.50V492.40H204.20V498.80H222.70" fill="none" stroke="#981B41" stroke-width="1.2" stroke-linejoin="miter"/>
<path d="M80.30,400.30V404.70M78.80,402.50H81.80" stroke="#981B41" stroke-width="1.2" fill="none"/>
<path d="M170.10,483.90V488.30M168.60,486.10H171.60" stroke="#981B41" stroke-width="1.2" fill="none"/>
<path d="M207.30,496.60V501.00M205.80,498.80H208.80" stroke="#981B41" stroke-width="1.2" fill="none"/>
<path d="M222.40,496.60V501.00M220.90,498.80H223.90" stroke="#981B41" stroke-width="1.2" fill="none"/>
<line x1="54.00" y1="437.30" x2="149.30" y2="437.30" stroke="#151515" stroke-width="1.25" stroke-dasharray="2.4,1.4"/>
<line x1="91.40" y1="437.30" x2="91.40" y2="512.80" stroke="#151515" stroke-width="1.25" stroke-dasharray="2.4,1.4"/>
<line x1="102.50" y1="437.30" x2="102.50" y2="512.80" stroke="#151515" stroke-width="1.25" stroke-dasharray="2.4,1.4"/>
<line x1="149.30" y1="437.30" x2="149.30" y2="512.80" stroke="#151515" stroke-width="1.25" stroke-dasharray="2.4,1.4"/>
<text transform="translate(314.20,498.50)" font-size="8.2" textLength="31.20" lengthAdjust="spacingAndGlyphs" fill="#2b2b2b" stroke="#2b2b2b" stroke-width="0.2"><tspan font-style="italic">P</tspan> &lt; .0001</text>
<path d="M315.40,354.40H332.20V359.00H333.30V363.00H333.75V365.00H334.65V367.00H335.10H335.53V368.75H336.38V370.50H336.80H337.95V372.20H339.10H341.40V372.80H343.70H344.15V374.25H345.05V375.70H345.50H345.77V377.45H346.33V379.20H346.60H346.90V381.50H347.20H348.35V382.30H349.50H349.77V384.15H350.33V386.00H350.60H352.60V386.30H354.60H354.80V387.93H355.20V389.57H355.60V391.20H355.80H371.40V396.20H397.70V401.50H398.30V407.00H404.60V411.70H495.40" fill="none" stroke="#3BA3D4" stroke-width="1.2" stroke-linejoin="miter"/>
<path d="M368.50,389.00V393.40M367.00,391.20H370.00" stroke="#3BA3D4" stroke-width="1.2" fill="none"/>
<path d="M393.70,394.00V398.40M392.20,396.20H395.20" stroke="#3BA3D4" stroke-width="1.2" fill="none"/>
<path d="M405.20,409.50V413.90M403.70,411.70H406.70" stroke="#3BA3D4" stroke-width="1.2" fill="none"/>
<path d="M415.00,409.50V413.90M413.50,411.70H416.50" stroke="#3BA3D4" stroke-width="1.2" fill="none"/>
<path d="M417.30,409.50V413.90M415.80,411.70H418.80" stroke="#3BA3D4" stroke-width="1.2" fill="none"/>
<path d="M418.50,409.50V413.90M417.00,411.70H420.00" stroke="#3BA3D4" stroke-width="1.2" fill="none"/>
<path d="M427.70,409.50V413.90M426.20,411.70H429.20" stroke="#3BA3D4" stroke-width="1.2" fill="none"/>
<path d="M444.40,409.50V413.90M442.90,411.70H445.90" stroke="#3BA3D4" stroke-width="1.2" fill="none"/>
<path d="M448.70,409.50V413.90M447.20,411.70H450.20" stroke="#3BA3D4" stroke-width="1.2" fill="none"/>
<path d="M455.60,409.50V413.90M454.10,411.70H457.10" stroke="#3BA3D4" stroke-width="1.2" fill="none"/>
<path d="M466.00,409.50V413.90M464.50,411.70H467.50" stroke="#3BA3D4" stroke-width="1.2" fill="none"/>
<path d="M471.20,409.50V413.90M469.70,411.70H472.70" stroke="#3BA3D4" stroke-width="1.2" fill="none"/>
<path d="M477.50,409.50V413.90M476.00,411.70H479.00" stroke="#3BA3D4" stroke-width="1.2" fill="none"/>
<path d="M479.20,409.50V413.90M477.70,411.70H480.70" stroke="#3BA3D4" stroke-width="1.2" fill="none"/>
<path d="M487.30,409.50V413.90M485.80,411.70H488.80" stroke="#3BA3D4" stroke-width="1.2" fill="none"/>
<path d="M490.80,409.50V413.90M489.30,411.70H492.30" stroke="#3BA3D4" stroke-width="1.2" fill="none"/>
<path d="M493.70,409.50V413.90M492.20,411.70H495.20" stroke="#3BA3D4" stroke-width="1.2" fill="none"/>
<path d="M315.40,354.40H327.30V393.50H355.70V417.50H361.20V441.20H366.00V464.80H430.70V488.00H462.30" fill="none" stroke="#274C7E" stroke-width="1.2" stroke-linejoin="miter"/>
<path d="M340.80,391.30V395.70M339.30,393.50H342.30" stroke="#274C7E" stroke-width="1.2" fill="none"/>
<path d="M461.90,485.80V490.20M460.40,488.00H463.40" stroke="#274C7E" stroke-width="1.2" fill="none"/>
<path d="M315.40,354.40H321.30V356.90H325.10V361.10H332.70H332.95V362.50H333.45V363.90H333.70H334.25V365.90H334.80H335.50V368.00H336.20H337.20V369.00H338.20H339.25V370.80H340.30H341.70V372.20H343.10H344.80V372.50H346.50H347.15V374.00H347.80H348.35V376.30H348.90H349.02V377.95H349.27V379.60H349.40H349.70V381.35H350.30V383.10H350.60H352.05V384.80H353.50H354.65V386.00H355.80H356.95V387.10H358.10H358.95V388.30H359.80H360.10V389.75H360.70V391.20H361.00H361.12V392.90H361.38V394.60H361.50H361.95V396.35H362.85V398.10H363.30H363.73V399.80H364.57V401.50H365.00H365.30V403.25H365.90V405.00H366.20H367.90V405.40H369.60H372.90H373.05V406.85H373.35V408.30H373.50H374.05V410.60H374.60H374.75V412.05H375.05V413.50H375.20H394.20V417.00H402.00V421.10H410.40H410.50V422.47H410.70V423.83H410.90V425.20H411.00H411.27V426.65H411.83V428.10H412.10H412.40V429.55H413.00V431.00H413.30H413.43V432.70H413.68V434.40H413.80H425.40V439.00H434.30V443.10H438.40V447.50H452.10V451.30H491.30" fill="none" stroke="#EC9D2E" stroke-width="1.2" stroke-linejoin="miter"/>
<path d="M337.50,366.30V370.70M336.00,368.50H339.00" stroke="#EC9D2E" stroke-width="1.2" fill="none"/>
<path d="M369.60,403.20V407.60M368.10,405.40H371.10" stroke="#EC9D2E" stroke-width="1.2" fill="none"/>
<path d="M379.20,411.30V415.70M377.70,413.50H380.70" stroke="#EC9D2E" stroke-width="1.2" fill="none"/>
<path d="M392.50,411.30V415.70M391.00,413.50H394.00" stroke="#EC9D2E" stroke-width="1.2" fill="none"/>
<path d="M408.70,418.90V423.30M407.20,421.10H410.20" stroke="#EC9D2E" stroke-width="1.2" fill="none"/>
<path d="M452.70,449.10V453.50M451.20,451.30H454.20" stroke="#EC9D2E" stroke-width="1.2" fill="none"/>
<path d="M458.50,449.10V453.50M457.00,451.30H460.00" stroke="#EC9D2E" stroke-width="1.2" fill="none"/>
<path d="M461.30,449.10V453.50M459.80,451.30H462.80" stroke="#EC9D2E" stroke-width="1.2" fill="none"/>
<path d="M463.10,449.10V453.50M461.60,451.30H464.60" stroke="#EC9D2E" stroke-width="1.2" fill="none"/>
<path d="M466.50,449.10V453.50M465.00,451.30H468.00" stroke="#EC9D2E" stroke-width="1.2" fill="none"/>
<path d="M474.60,449.10V453.50M473.10,451.30H476.10" stroke="#EC9D2E" stroke-width="1.2" fill="none"/>
<path d="M476.90,449.10V453.50M475.40,451.30H478.40" stroke="#EC9D2E" stroke-width="1.2" fill="none"/>
<path d="M479.20,449.10V453.50M477.70,451.30H480.70" stroke="#EC9D2E" stroke-width="1.2" fill="none"/>
<path d="M490.20,449.10V453.50M488.70,451.30H491.70" stroke="#EC9D2E" stroke-width="1.2" fill="none"/>
<path d="M315.40,354.40H326.10V372.70H332.20V382.00H335.30V391.20H336.70V393.50H338.00V421.00H340.00V431.30H348.10V440.20H352.10V452.40H359.30V464.80H360.60V476.20H365.50V488.20H370.10V500.30H417.60" fill="none" stroke="#981B41" stroke-width="1.2" stroke-linejoin="miter"/>
<path d="M337.90,397.00V401.40M336.40,399.20H339.40" stroke="#981B41" stroke-width="1.2" fill="none"/>
<path d="M351.50,438.00V442.40M350.00,440.20H353.00" stroke="#981B41" stroke-width="1.2" fill="none"/>
<path d="M417.20,498.10V502.50M415.70,500.30H418.70" stroke="#981B41" stroke-width="1.2" fill="none"/>
<line x1="315.40" y1="433.10" x2="413.30" y2="433.10" stroke="#151515" stroke-width="1.25" stroke-dasharray="2.4,1.4"/>
<line x1="347.80" y1="433.10" x2="347.80" y2="512.00" stroke="#151515" stroke-width="1.25" stroke-dasharray="2.4,1.4"/>
<line x1="360.90" y1="433.10" x2="360.90" y2="512.00" stroke="#151515" stroke-width="1.25" stroke-dasharray="2.4,1.4"/>
<line x1="413.30" y1="433.10" x2="413.30" y2="512.00" stroke="#151515" stroke-width="1.25" stroke-dasharray="2.4,1.4"/>
<rect x="0.5" y="0.5" width="519" height="635" fill="none" stroke="#3a3a3a" stroke-width="1"/>
</svg></body></html>
